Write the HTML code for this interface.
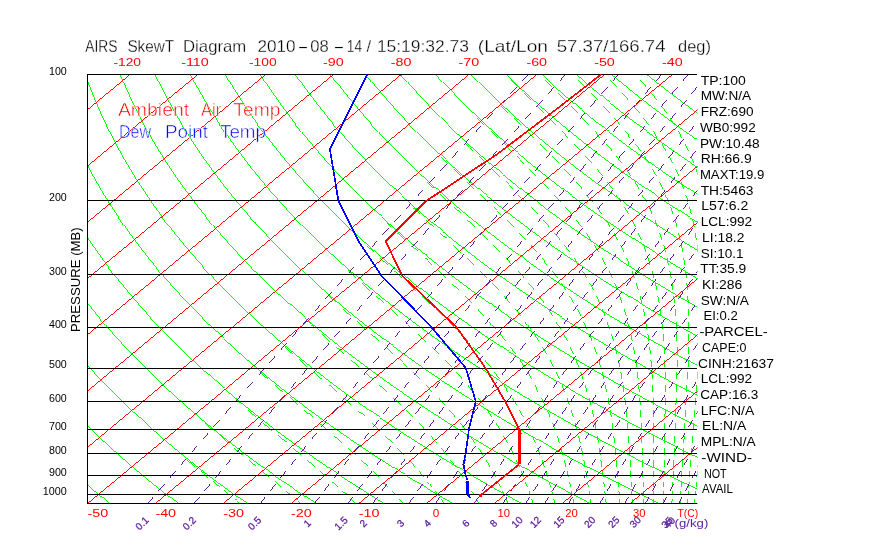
<!DOCTYPE html>
<html lang="en"><head><meta charset="utf-8"><title>AIRS SkewT Diagram</title>
<style>html,body{margin:0;padding:0;background:#fff}body{width:870px;height:560px;overflow:hidden}svg{display:block}</style></head>
<body>
<svg width="870" height="560" viewBox="0 0 870 560" font-family="'Liberation Sans', sans-serif">
<rect width="870" height="560" fill="#fff"/>
<defs><clipPath id="c"><rect x="87" y="74" width="610.5" height="430"/></clipPath></defs>
<g clip-path="url(#c)" fill="none" stroke-width="1" shape-rendering="crispEdges">
<path stroke="#00ff00" stroke-width="0.99" d="M109 503.4 L100.5 496.3 L92.2 489.1 L84.1 482 L76.2 474.8 L68.4 467.7 L60.9 460.5 L53.5 453.4 L46.3 446.2 L39.3 439.1 L32.4 431.9 L25.8 424.8 L19.3 417.6 L12.9 410.5 L6.8 403.3 L0.8 396.2 L-5.1 389 L-10.8 381.9 L-16.3 374.7 L-21.6 367.6 L-26.8 360.4 L-31.9 353.3 L-36.8 346.1 L-41.5 339 L-46.1 331.8 L-50.6 324.7 L-54.9 317.5 L-59.1 310.4 L-63.1 303.2 L-67 296.1 L-70.7 288.9 L-74.3 281.8 L-77.8 274.7 L-81.1 267.5 L-84.3 260.4 L-87.4 253.2 L-90.3 246.1 L-93.1 238.9 L-95.8 231.8 L-98.4 224.6 L-100.8 217.5 L-103.1 210.3 L-105.3 203.2 L-107.4 196 L-109.3 188.9 L-111.1 181.7 L-112.8 174.6 L-114.4 167.4 L-115.9 160.3 L-117.3 153.1 L-118.6 146 L-119.7 138.8 L-120.7 131.7 L-121.7 124.5 L-122.5 117.4 L-123.2 110.2 L-123.8 103.1 L-124.4 95.9 L-124.8 88.8 L-125.1 81.6 L-125.3 74.5 M177.7 503.4 L168.5 496.3 L159.4 489.1 L150.6 482 L141.9 474.8 L133.4 467.7 L125.2 460.5 L117.1 453.4 L109.2 446.2 L101.4 439.1 L93.9 431.9 L86.6 424.8 L79.4 417.6 L72.4 410.5 L65.5 403.3 L58.9 396.2 L52.4 389 L46.1 381.9 L39.9 374.7 L33.9 367.6 L28.1 360.4 L22.4 353.3 L16.9 346.1 L11.6 339 L6.4 331.8 L1.4 324.7 L-3.5 317.5 L-8.3 310.4 L-12.9 303.2 L-17.3 296.1 L-21.6 288.9 L-25.7 281.8 L-29.7 274.7 L-33.6 267.5 L-37.3 260.4 L-40.9 253.2 L-44.4 246.1 L-47.7 238.9 L-50.9 231.8 L-54 224.6 L-56.9 217.5 L-59.7 210.3 L-62.3 203.2 L-64.9 196 L-67.3 188.9 L-69.6 181.7 L-71.8 174.6 L-73.8 167.4 L-75.8 160.3 L-77.6 153.1 L-79.3 146 L-80.9 138.8 L-82.4 131.7 L-83.7 124.5 L-85 117.4 L-86.1 110.2 L-87.1 103.1 L-88.1 95.9 L-88.9 88.8 L-89.6 81.6 L-90.2 74.5 M246.5 503.4 L236.5 496.3 L226.7 489.1 L217.1 482 L207.6 474.8 L198.4 467.7 L189.4 460.5 L180.6 453.4 L172 446.2 L163.6 439.1 L155.4 431.9 L147.3 424.8 L139.5 417.6 L131.8 410.5 L124.3 403.3 L117 396.2 L109.9 389 L102.9 381.9 L96.1 374.7 L89.5 367.6 L83.1 360.4 L76.8 353.3 L70.7 346.1 L64.7 339 L58.9 331.8 L53.3 324.7 L47.8 317.5 L42.5 310.4 L37.4 303.2 L32.4 296.1 L27.5 288.9 L22.8 281.8 L18.3 274.7 L13.9 267.5 L9.6 260.4 L5.5 253.2 L1.5 246.1 L-2.3 238.9 L-6 231.8 L-9.5 224.6 L-13 217.5 L-16.3 210.3 L-19.4 203.2 L-22.4 196 L-25.3 188.9 L-28.1 181.7 L-30.7 174.6 L-33.2 167.4 L-35.6 160.3 L-37.9 153.1 L-40 146 L-42.1 138.8 L-44 131.7 L-45.8 124.5 L-47.4 117.4 L-49 110.2 L-50.4 103.1 L-51.8 95.9 L-53 88.8 L-54.1 81.6 L-55.1 74.5 M315.2 503.4 L304.5 496.3 L293.9 489.1 L283.5 482 L273.4 474.8 L263.5 467.7 L253.7 460.5 L244.2 453.4 L234.9 446.2 L225.8 439.1 L216.8 431.9 L208.1 424.8 L199.6 417.6 L191.2 410.5 L183.1 403.3 L175.1 396.2 L167.3 389 L159.7 381.9 L152.3 374.7 L145.1 367.6 L138 360.4 L131.1 353.3 L124.4 346.1 L117.8 339 L111.5 331.8 L105.3 324.7 L99.2 317.5 L93.3 310.4 L87.6 303.2 L82.1 296.1 L76.7 288.9 L71.4 281.8 L66.3 274.7 L61.4 267.5 L56.6 260.4 L52 253.2 L47.5 246.1 L43.1 238.9 L38.9 231.8 L34.9 224.6 L30.9 217.5 L27.2 210.3 L23.5 203.2 L20 196 L16.7 188.9 L13.4 181.7 L10.3 174.6 L7.4 167.4 L4.5 160.3 L1.8 153.1 L-0.8 146 L-3.2 138.8 L-5.6 131.7 L-7.8 124.5 L-9.9 117.4 L-11.9 110.2 L-13.7 103.1 L-15.5 95.9 L-17.1 88.8 L-18.6 81.6 L-20 74.5 M384 503.4 L372.4 496.3 L361.1 489.1 L350 482 L339.1 474.8 L328.5 467.7 L318 460.5 L307.8 453.4 L297.7 446.2 L287.9 439.1 L278.3 431.9 L268.9 424.8 L259.7 417.6 L250.7 410.5 L241.8 403.3 L233.2 396.2 L224.8 389 L216.5 381.9 L208.5 374.7 L200.6 367.6 L192.9 360.4 L185.4 353.3 L178.1 346.1 L171 339 L164 331.8 L157.2 324.7 L150.6 317.5 L144.1 310.4 L137.8 303.2 L131.7 296.1 L125.8 288.9 L120 281.8 L114.3 274.7 L108.9 267.5 L103.6 260.4 L98.4 253.2 L93.4 246.1 L88.5 238.9 L83.8 231.8 L79.3 224.6 L74.9 217.5 L70.6 210.3 L66.5 203.2 L62.5 196 L58.6 188.9 L54.9 181.7 L51.4 174.6 L48 167.4 L44.7 160.3 L41.5 153.1 L38.5 146 L35.6 138.8 L32.8 131.7 L30.2 124.5 L27.6 117.4 L25.2 110.2 L23 103.1 L20.8 95.9 L18.8 88.8 L16.9 81.6 L15.1 74.5 M452.7 503.4 L440.4 496.3 L428.3 489.1 L416.5 482 L404.9 474.8 L393.5 467.7 L382.3 460.5 L371.3 453.4 L360.6 446.2 L350.1 439.1 L339.8 431.9 L329.7 424.8 L319.8 417.6 L310.1 410.5 L300.6 403.3 L291.3 396.2 L282.3 389 L273.4 381.9 L264.7 374.7 L256.2 367.6 L247.9 360.4 L239.8 353.3 L231.8 346.1 L224.1 339 L216.5 331.8 L209.2 324.7 L202 317.5 L194.9 310.4 L188.1 303.2 L181.4 296.1 L174.9 288.9 L168.6 281.8 L162.4 274.7 L156.4 267.5 L150.5 260.4 L144.8 253.2 L139.3 246.1 L133.9 238.9 L128.7 231.8 L123.7 224.6 L118.8 217.5 L114 210.3 L109.4 203.2 L104.9 196 L100.6 188.9 L96.5 181.7 L92.4 174.6 L88.6 167.4 L84.8 160.3 L81.2 153.1 L77.7 146 L74.4 138.8 L71.2 131.7 L68.1 124.5 L65.2 117.4 L62.4 110.2 L59.7 103.1 L57.1 95.9 L54.7 88.8 L52.4 81.6 L50.2 74.5 M521.5 503.4 L508.4 496.3 L495.6 489.1 L483 482 L470.6 474.8 L458.5 467.7 L446.6 460.5 L434.9 453.4 L423.4 446.2 L412.2 439.1 L401.2 431.9 L390.4 424.8 L379.9 417.6 L369.5 410.5 L359.4 403.3 L349.4 396.2 L339.7 389 L330.2 381.9 L320.9 374.7 L311.8 367.6 L302.8 360.4 L294.1 353.3 L285.6 346.1 L277.2 339 L269.1 331.8 L261.1 324.7 L253.3 317.5 L245.7 310.4 L238.3 303.2 L231.1 296.1 L224 288.9 L217.1 281.8 L210.4 274.7 L203.9 267.5 L197.5 260.4 L191.3 253.2 L185.2 246.1 L179.4 238.9 L173.6 231.8 L168.1 224.6 L162.7 217.5 L157.4 210.3 L152.3 203.2 L147.4 196 L142.6 188.9 L138 181.7 L133.5 174.6 L129.2 167.4 L125 160.3 L120.9 153.1 L117 146 L113.2 138.8 L109.6 131.7 L106.1 124.5 L102.7 117.4 L99.5 110.2 L96.4 103.1 L93.4 95.9 L90.6 88.8 L87.9 81.6 L85.3 74.5 M590.2 503.4 L576.4 496.3 L562.8 489.1 L549.4 482 L536.3 474.8 L523.5 467.7 L510.8 460.5 L498.5 453.4 L486.3 446.2 L474.4 439.1 L462.7 431.9 L451.2 424.8 L440 417.6 L429 410.5 L418.1 403.3 L407.6 396.2 L397.2 389 L387 381.9 L377.1 374.7 L367.3 367.6 L357.8 360.4 L348.4 353.3 L339.3 346.1 L330.4 339 L321.6 331.8 L313.1 324.7 L304.7 317.5 L296.5 310.4 L288.5 303.2 L280.7 296.1 L273.1 288.9 L265.7 281.8 L258.4 274.7 L251.4 267.5 L244.5 260.4 L237.7 253.2 L231.2 246.1 L224.8 238.9 L218.5 231.8 L212.5 224.6 L206.6 217.5 L200.9 210.3 L195.3 203.2 L189.9 196 L184.6 188.9 L179.5 181.7 L174.6 174.6 L169.8 167.4 L165.1 160.3 L160.6 153.1 L156.2 146 L152 138.8 L148 131.7 L144 124.5 L140.2 117.4 L136.6 110.2 L133.1 103.1 L129.7 95.9 L126.5 88.8 L123.3 81.6 L120.4 74.5 M659 503.4 L644.4 496.3 L630 489.1 L615.9 482 L602.1 474.8 L588.5 467.7 L575.1 460.5 L562 453.4 L549.2 446.2 L536.5 439.1 L524.1 431.9 L512 424.8 L500.1 417.6 L488.4 410.5 L476.9 403.3 L465.7 396.2 L454.7 389 L443.8 381.9 L433.3 374.7 L422.9 367.6 L412.7 360.4 L402.8 353.3 L393 346.1 L383.5 339 L374.2 331.8 L365 324.7 L356.1 317.5 L347.3 310.4 L338.8 303.2 L330.4 296.1 L322.3 288.9 L314.3 281.8 L306.5 274.7 L298.9 267.5 L291.4 260.4 L284.2 253.2 L277.1 246.1 L270.2 238.9 L263.5 231.8 L256.9 224.6 L250.5 217.5 L244.3 210.3 L238.2 203.2 L232.3 196 L226.6 188.9 L221 181.7 L215.6 174.6 L210.4 167.4 L205.2 160.3 L200.3 153.1 L195.5 146 L190.8 138.8 L186.3 131.7 L182 124.5 L177.8 117.4 L173.7 110.2 L169.8 103.1 L166 95.9 L162.3 88.8 L158.8 81.6 L155.5 74.5 M727.8 503.4 L712.4 496.3 L697.3 489.1 L682.4 482 L667.8 474.8 L653.5 467.7 L639.4 460.5 L625.6 453.4 L612 446.2 L598.7 439.1 L585.6 431.9 L572.8 424.8 L560.2 417.6 L547.8 410.5 L535.7 403.3 L523.8 396.2 L512.1 389 L500.7 381.9 L489.5 374.7 L478.5 367.6 L467.7 360.4 L457.1 353.3 L446.8 346.1 L436.6 339 L426.7 331.8 L417 324.7 L407.4 317.5 L398.1 310.4 L389 303.2 L380.1 296.1 L371.4 288.9 L362.8 281.8 L354.5 274.7 L346.4 267.5 L338.4 260.4 L330.6 253.2 L323 246.1 L315.6 238.9 L308.4 231.8 L301.3 224.6 L294.4 217.5 L287.7 210.3 L281.2 203.2 L274.8 196 L268.6 188.9 L262.5 181.7 L256.7 174.6 L250.9 167.4 L245.4 160.3 L240 153.1 L234.8 146 L229.7 138.8 L224.7 131.7 L219.9 124.5 L215.3 117.4 L210.8 110.2 L206.5 103.1 L202.3 95.9 L198.2 88.8 L194.3 81.6 L190.5 74.5 M796.5 503.4 L780.4 496.3 L764.5 489.1 L748.9 482 L733.6 474.8 L718.5 467.7 L703.7 460.5 L689.2 453.4 L674.9 446.2 L660.8 439.1 L647.1 431.9 L633.6 424.8 L620.3 417.6 L607.2 410.5 L594.5 403.3 L581.9 396.2 L569.6 389 L557.5 381.9 L545.6 374.7 L534 367.6 L522.6 360.4 L511.4 353.3 L500.5 346.1 L489.8 339 L479.2 331.8 L468.9 324.7 L458.8 317.5 L448.9 310.4 L439.3 303.2 L429.8 296.1 L420.5 288.9 L411.4 281.8 L402.5 274.7 L393.8 267.5 L385.4 260.4 L377.1 253.2 L368.9 246.1 L361 238.9 L353.3 231.8 L345.7 224.6 L338.3 217.5 L331.1 210.3 L324.1 203.2 L317.2 196 L310.6 188.9 L304.1 181.7 L297.7 174.6 L291.5 167.4 L285.5 160.3 L279.7 153.1 L274 146 L268.5 138.8 L263.1 131.7 L257.9 124.5 L252.8 117.4 L247.9 110.2 L243.2 103.1 L238.6 95.9 L234.1 88.8 L229.8 81.6 L225.6 74.5 M865.3 503.4 L848.3 496.3 L831.7 489.1 L815.4 482 L799.3 474.8 L783.5 467.7 L768 460.5 L752.7 453.4 L737.7 446.2 L723 439.1 L708.5 431.9 L694.3 424.8 L680.4 417.6 L666.7 410.5 L653.2 403.3 L640 396.2 L627 389 L614.3 381.9 L601.8 374.7 L589.6 367.6 L577.6 360.4 L565.8 353.3 L554.2 346.1 L542.9 339 L531.8 331.8 L520.9 324.7 L510.2 317.5 L499.7 310.4 L489.5 303.2 L479.4 296.1 L469.6 288.9 L460 281.8 L450.6 274.7 L441.3 267.5 L432.3 260.4 L423.5 253.2 L414.9 246.1 L406.4 238.9 L398.2 231.8 L390.1 224.6 L382.2 217.5 L374.5 210.3 L367 203.2 L359.7 196 L352.6 188.9 L345.6 181.7 L338.8 174.6 L332.1 167.4 L325.7 160.3 L319.4 153.1 L313.3 146 L307.3 138.8 L301.5 131.7 L295.9 124.5 L290.4 117.4 L285.1 110.2 L279.9 103.1 L274.9 95.9 L270 88.8 L265.3 81.6 L260.7 74.5 M934 503.4 L916.3 496.3 L898.9 489.1 L881.8 482 L865 474.8 L848.5 467.7 L832.3 460.5 L816.3 453.4 L800.6 446.2 L785.2 439.1 L770 431.9 L755.1 424.8 L740.5 417.6 L726.1 410.5 L712 403.3 L698.1 396.2 L684.5 389 L671.1 381.9 L658 374.7 L645.2 367.6 L632.5 360.4 L620.1 353.3 L607.9 346.1 L596 339 L584.3 331.8 L572.8 324.7 L561.6 317.5 L550.5 310.4 L539.7 303.2 L529.1 296.1 L518.7 288.9 L508.6 281.8 L498.6 274.7 L488.8 267.5 L479.3 260.4 L469.9 253.2 L460.8 246.1 L451.8 238.9 L443.1 231.8 L434.5 224.6 L426.2 217.5 L418 210.3 L410 203.2 L402.2 196 L394.5 188.9 L387.1 181.7 L379.8 174.6 L372.7 167.4 L365.8 160.3 L359.1 153.1 L352.5 146 L346.1 138.8 L339.9 131.7 L333.8 124.5 L327.9 117.4 L322.2 110.2 L316.6 103.1 L311.2 95.9 L305.9 88.8 L300.8 81.6 L295.8 74.5 M1002.8 503.4 L984.3 496.3 L966.2 489.1 L948.3 482 L930.8 474.8 L913.5 467.7 L896.5 460.5 L879.8 453.4 L863.4 446.2 L847.3 439.1 L831.5 431.9 L815.9 424.8 L800.6 417.6 L785.5 410.5 L770.8 403.3 L756.2 396.2 L742 389 L728 381.9 L714.2 374.7 L700.7 367.6 L687.5 360.4 L674.4 353.3 L661.7 346.1 L649.1 339 L636.8 331.8 L624.8 324.7 L612.9 317.5 L601.3 310.4 L590 303.2 L578.8 296.1 L567.9 288.9 L557.1 281.8 L546.6 274.7 L536.3 267.5 L526.3 260.4 L516.4 253.2 L506.7 246.1 L497.3 238.9 L488 231.8 L478.9 224.6 L470.1 217.5 L461.4 210.3 L452.9 203.2 L444.6 196 L436.5 188.9 L428.6 181.7 L420.9 174.6 L413.3 167.4 L406 160.3 L398.8 153.1 L391.8 146 L384.9 138.8 L378.3 131.7 L371.8 124.5 L365.5 117.4 L359.3 110.2 L353.3 103.1 L347.5 95.9 L341.8 88.8 L336.3 81.6 L330.9 74.5 M1071.5 503.4 L1052.3 496.3 L1033.4 489.1 L1014.8 482 L996.5 474.8 L978.5 467.7 L960.8 460.5 L943.4 453.4 L926.3 446.2 L909.5 439.1 L892.9 431.9 L876.7 424.8 L860.7 417.6 L845 410.5 L829.5 403.3 L814.4 396.2 L799.4 389 L784.8 381.9 L770.4 374.7 L756.3 367.6 L742.4 360.4 L728.8 353.3 L715.4 346.1 L702.3 339 L689.4 331.8 L676.7 324.7 L664.3 317.5 L652.1 310.4 L640.2 303.2 L628.5 296.1 L617 288.9 L605.7 281.8 L594.7 274.7 L583.8 267.5 L573.2 260.4 L562.8 253.2 L552.6 246.1 L542.7 238.9 L532.9 231.8 L523.3 224.6 L514 217.5 L504.8 210.3 L495.9 203.2 L487.1 196 L478.5 188.9 L470.1 181.7 L461.9 174.6 L453.9 167.4 L446.1 160.3 L438.5 153.1 L431 146 L423.8 138.8 L416.7 131.7 L409.7 124.5 L403 117.4 L396.4 110.2 L390 103.1 L383.8 95.9 L377.7 88.8 L371.8 81.6 L366 74.5 M1140.3 503.4 L1120.3 496.3 L1100.6 489.1 L1081.3 482 L1062.2 474.8 L1043.5 467.7 L1025.1 460.5 L1007 453.4 L989.2 446.2 L971.6 439.1 L954.4 431.9 L937.4 424.8 L920.8 417.6 L904.4 410.5 L888.3 403.3 L872.5 396.2 L856.9 389 L841.6 381.9 L826.6 374.7 L811.8 367.6 L797.4 360.4 L783.1 353.3 L769.1 346.1 L755.4 339 L741.9 331.8 L728.7 324.7 L715.7 317.5 L702.9 310.4 L690.4 303.2 L678.1 296.1 L666.1 288.9 L654.3 281.8 L642.7 274.7 L631.3 267.5 L620.2 260.4 L609.3 253.2 L598.6 246.1 L588.1 238.9 L577.8 231.8 L567.7 224.6 L557.9 217.5 L548.2 210.3 L538.8 203.2 L529.5 196 L520.5 188.9 L511.7 181.7 L503 174.6 L494.5 167.4 L486.3 160.3 L478.2 153.1 L470.3 146 L462.6 138.8 L455 131.7 L447.7 124.5 L440.5 117.4 L433.5 110.2 L426.7 103.1 L420.1 95.9 L413.6 88.8 L407.3 81.6 L401.1 74.5 M1209 503.4 L1188.3 496.3 L1167.9 489.1 L1147.8 482 L1128 474.8 L1108.5 467.7 L1089.4 460.5 L1070.5 453.4 L1052 446.2 L1033.8 439.1 L1015.9 431.9 L998.2 424.8 L980.9 417.6 L963.8 410.5 L947.1 403.3 L930.6 396.2 L914.4 389 L898.4 381.9 L882.8 374.7 L867.4 367.6 L852.3 360.4 L837.4 353.3 L822.9 346.1 L808.5 339 L794.5 331.8 L780.6 324.7 L767.1 317.5 L753.7 310.4 L740.7 303.2 L727.8 296.1 L715.2 288.9 L702.9 281.8 L690.7 274.7 L678.8 267.5 L667.2 260.4 L655.7 253.2 L644.5 246.1 L633.5 238.9 L622.7 231.8 L612.2 224.6 L601.8 217.5 L591.7 210.3 L581.7 203.2 L572 196 L562.5 188.9 L553.2 181.7 L544.1 174.6 L535.1 167.4 L526.4 160.3 L517.9 153.1 L509.5 146 L501.4 138.8 L493.4 131.7 L485.7 124.5 L478.1 117.4 L470.6 110.2 L463.4 103.1 L456.3 95.9 L449.5 88.8 L442.7 81.6 L436.2 74.5 M1277.8 503.4 L1256.3 496.3 L1235.1 489.1 L1214.2 482 L1193.7 474.8 L1173.5 467.7 L1153.7 460.5 L1134.1 453.4 L1114.9 446.2 L1095.9 439.1 L1077.3 431.9 L1059 424.8 L1041 417.6 L1023.3 410.5 L1005.8 403.3 L988.7 396.2 L971.8 389 L955.3 381.9 L939 374.7 L923 367.6 L907.2 360.4 L891.8 353.3 L876.6 346.1 L861.7 339 L847 331.8 L832.6 324.7 L818.4 317.5 L804.5 310.4 L790.9 303.2 L777.5 296.1 L764.3 288.9 L751.4 281.8 L738.8 274.7 L726.3 267.5 L714.1 260.4 L702.2 253.2 L690.4 246.1 L678.9 238.9 L667.6 231.8 L656.6 224.6 L645.7 217.5 L635.1 210.3 L624.7 203.2 L614.5 196 L604.5 188.9 L594.7 181.7 L585.1 174.6 L575.7 167.4 L566.6 160.3 L557.6 153.1 L548.8 146 L540.2 138.8 L531.8 131.7 L523.6 124.5 L515.6 117.4 L507.8 110.2 L500.1 103.1 L492.6 95.9 L485.3 88.8 L478.2 81.6 L471.3 74.5 M1346.5 503.4 L1324.3 496.3 L1302.3 489.1 L1280.7 482 L1259.5 474.8 L1238.5 467.7 L1217.9 460.5 L1197.7 453.4 L1177.7 446.2 L1158.1 439.1 L1138.8 431.9 L1119.8 424.8 L1101.1 417.6 L1082.7 410.5 L1064.6 403.3 L1046.8 396.2 L1029.3 389 L1012.1 381.9 L995.2 374.7 L978.5 367.6 L962.2 360.4 L946.1 353.3 L930.3 346.1 L914.8 339 L899.5 331.8 L884.5 324.7 L869.8 317.5 L855.3 310.4 L841.1 303.2 L827.2 296.1 L813.5 288.9 L800 281.8 L786.8 274.7 L773.8 267.5 L761.1 260.4 L748.6 253.2 L736.3 246.1 L724.3 238.9 L712.5 231.8 L701 224.6 L689.6 217.5 L678.5 210.3 L667.6 203.2 L656.9 196 L646.5 188.9 L636.2 181.7 L626.2 174.6 L616.3 167.4 L606.7 160.3 L597.3 153.1 L588.1 146 L579 138.8 L570.2 131.7 L561.6 124.5 L553.1 117.4 L544.9 110.2 L536.8 103.1 L528.9 95.9 L521.2 88.8 L513.7 81.6 L506.4 74.5 M1415.3 503.4 L1392.2 496.3 L1369.5 489.1 L1347.2 482 L1325.2 474.8 L1303.5 467.7 L1282.2 460.5 L1261.2 453.4 L1240.6 446.2 L1220.2 439.1 L1200.2 431.9 L1180.6 424.8 L1161.2 417.6 L1142.1 410.5 L1123.4 403.3 L1104.9 396.2 L1086.8 389 L1068.9 381.9 L1051.4 374.7 L1034.1 367.6 L1017.1 360.4 L1000.4 353.3 L984 346.1 L967.9 339 L952.1 331.8 L936.5 324.7 L921.2 317.5 L906.1 310.4 L891.4 303.2 L876.8 296.1 L862.6 288.9 L848.6 281.8 L834.8 274.7 L821.3 267.5 L808.1 260.4 L795 253.2 L782.3 246.1 L769.7 238.9 L757.4 231.8 L745.4 224.6 L733.5 217.5 L721.9 210.3 L710.5 203.2 L699.4 196 L688.5 188.9 L677.7 181.7 L667.2 174.6 L656.9 167.4 L646.9 160.3 L637 153.1 L627.3 146 L617.9 138.8 L608.6 131.7 L599.5 124.5 L590.7 117.4 L582 110.2 L573.5 103.1 L565.2 95.9 L557.1 88.8 L549.2 81.6 L541.5 74.5 M1484 503.4 L1460.2 496.3 L1436.8 489.1 L1413.7 482 L1390.9 474.8 L1368.5 467.7 L1346.5 460.5 L1324.8 453.4 L1303.4 446.2 L1282.4 439.1 L1261.7 431.9 L1241.3 424.8 L1221.3 417.6 L1201.5 410.5 L1182.1 403.3 L1163 396.2 L1144.2 389 L1125.7 381.9 L1107.6 374.7 L1089.7 367.6 L1072.1 360.4 L1054.8 353.3 L1037.8 346.1 L1021 339 L1004.6 331.8 L988.4 324.7 L972.5 317.5 L956.9 310.4 L941.6 303.2 L926.5 296.1 L911.7 288.9 L897.1 281.8 L882.8 274.7 L868.8 267.5 L855 260.4 L841.5 253.2 L828.2 246.1 L815.1 238.9 L802.3 231.8 L789.8 224.6 L777.4 217.5 L765.4 210.3 L753.5 203.2 L741.8 196 L730.4 188.9 L719.2 181.7 L708.3 174.6 L697.5 167.4 L687 160.3 L676.7 153.1 L666.6 146 L656.7 138.8 L647 131.7 L637.5 124.5 L628.2 117.4 L619.1 110.2 L610.2 103.1 L601.5 95.9 L593 88.8 L584.7 81.6 L576.6 74.5 M1552.8 503.4 L1528.2 496.3 L1504 489.1 L1480.2 482 L1456.7 474.8 L1433.6 467.7 L1410.8 460.5 L1388.4 453.4 L1366.3 446.2 L1344.6 439.1 L1323.2 431.9 L1302.1 424.8 L1281.4 417.6 L1261 410.5 L1240.9 403.3 L1221.1 396.2 L1201.7 389 L1182.6 381.9 L1163.8 374.7 L1145.2 367.6 L1127 360.4 L1109.1 353.3 L1091.5 346.1 L1074.2 339 L1057.1 331.8 L1040.4 324.7 L1023.9 317.5 L1007.7 310.4 L991.8 303.2 L976.2 296.1 L960.8 288.9 L945.7 281.8 L930.9 274.7 L916.3 267.5 L902 260.4 L887.9 253.2 L874.1 246.1 L860.6 238.9 L847.3 231.8 L834.2 224.6 L821.4 217.5 L808.8 210.3 L796.4 203.2 L784.3 196 L772.4 188.9 L760.8 181.7 L749.3 174.6 L738.1 167.4 L727.1 160.3 L716.4 153.1 L705.8 146 L695.5 138.8 L685.4 131.7 L675.4 124.5 L665.7 117.4 L656.2 110.2 L646.9 103.1 L637.8 95.9 L628.9 88.8 L620.2 81.6 L611.7 74.5 M1621.5 503.4 L1596.2 496.3 L1571.2 489.1 L1546.6 482 L1522.4 474.8 L1498.6 467.7 L1475.1 460.5 L1451.9 453.4 L1429.1 446.2 L1406.7 439.1 L1384.6 431.9 L1362.9 424.8 L1341.5 417.6 L1320.4 410.5 L1299.7 403.3 L1279.3 396.2 L1259.2 389 L1239.4 381.9 L1219.9 374.7 L1200.8 367.6 L1182 360.4 L1163.4 353.3 L1145.2 346.1 L1127.3 339 L1109.7 331.8 L1092.3 324.7 L1075.3 317.5 L1058.5 310.4 L1042.1 303.2 L1025.9 296.1 L1009.9 288.9 L994.3 281.8 L978.9 274.7 L963.8 267.5 L949 260.4 L934.4 253.2 L920 246.1 L906 238.9 L892.2 231.8 L878.6 224.6 L865.3 217.5 L852.2 210.3 L839.4 203.2 L826.8 196 L814.4 188.9 L802.3 181.7 L790.4 174.6 L778.7 167.4 L767.3 160.3 L756.1 153.1 L745.1 146 L734.3 138.8 L723.7 131.7 L713.4 124.5 L703.3 117.4 L693.3 110.2 L683.6 103.1 L674.1 95.9 L664.8 88.8 L655.7 81.6 L646.8 74.5"/>
<path stroke="#00ff00" stroke-width="0.99" d="M240 503.5 L237.3 501.3 L234.5 499 M230 495.4 L227.1 493 L224.2 490.7 M219.5 486.8 L216.2 484.1 L212.9 481.5 M207.6 477.1 L204 474.2 L200.5 471.3 M194.8 466.5 L191 463.3 L187.2 460.2 M300.8 503.5 L298.1 501.3 L295.5 499 M291.2 495.4 L288.4 493 L285.6 490.7 M281 486.8 L277.7 484.1 L274.5 481.5 M269.3 477.1 L265.7 474.2 L262.2 471.3 M256.4 466.5 L252.6 463.3 L248.7 460.2 M242.5 455 L238.4 451.6 L234.4 448.3 M227.8 442.8 L223.7 439.3 L219.5 435.8 M212.8 430.1 L208.7 426.6 L204.7 423.1 M355.6 503.5 L353.3 501.3 L350.9 499 M347.1 495.4 L344.5 493 L342 490.7 M337.7 486.8 L334.8 484.1 L331.8 481.5 M326.8 477.1 L323.5 474.2 L320.2 471.3 M314.7 466.5 L311 463.3 L307.3 460.2 M301.2 455 L297.2 451.6 L293.2 448.3 M286.6 442.8 L282.5 439.3 L278.3 435.8 M271.5 430.1 L267.3 426.6 L263.2 423.1 M256.4 417.4 L252.3 413.9 L248.2 410.4 M241.5 404.7 L237.5 401.2 L233.5 397.7 M403.4 503.5 L401.5 501.3 L399.5 499 M396.2 495.4 L394 493 L391.9 490.7 M388.2 486.8 L385.6 484.1 L383 481.5 M378.7 477.1 L375.8 474.2 L372.8 471.3 M367.9 466.5 L364.5 463.3 L361.2 460.2 M355.6 455 L351.9 451.6 L348.1 448.3 M342 442.8 L338 439.3 L334 435.8 M327.4 430.1 L323.4 426.6 L319.3 423.1 M312.6 417.4 L308.5 413.9 L304.4 410.4 M297.7 404.7 L293.6 401.2 L289.5 397.7 M282.8 392 L278.7 388.5 L274.7 385 M268.1 379.3 L264.1 375.8 L260.1 372.3 M444.2 503.5 L442.6 501.3 L441 499 M438.4 495.4 L436.6 493 L434.8 490.7 M431.8 486.8 L429.7 484.1 L427.6 481.5 M424 477.1 L421.5 474.2 L419 471.3 M414.8 466.5 L412 463.3 L409.1 460.2 M404.3 455 L401 451.6 L397.8 448.3 M392.3 442.8 L388.8 439.3 L385.2 435.8 M379.1 430.1 L375.4 426.6 L371.6 423.1 M365.4 417.4 L361.5 413.9 L357.6 410.4 M351.1 404.7 L347.1 401.2 L343.1 397.7 M336.6 392 L332.5 388.5 L328.5 385 M321.9 379.3 L317.8 375.8 L313.8 372.3 M307.2 366.6 L303.1 363.1 L299.1 359.6 M292.6 353.9 L288.7 350.4 L284.7 346.9 M478.7 503.5 L477.5 501.3 L476.3 499 M474.2 495.4 L472.8 493 L471.4 490.7 M469 486.8 L467.3 484.1 L465.6 481.5 M462.7 477.1 L460.7 474.2 L458.7 471.3 M455.3 466.5 L453 463.3 L450.6 460.2 M446.6 455 L444 451.6 L441.2 448.3 M436.6 442.8 L433.6 439.3 L430.6 435.8 M425.4 430.1 L422.2 426.6 L418.9 423.1 M413.3 417.4 L409.9 413.9 L406.4 410.4 M400.5 404.7 L396.8 401.2 L393.1 397.7 M387 392 L383.2 388.5 L379.4 385 M373 379.3 L369.1 375.8 L365.2 372.3 M358.7 366.6 L354.7 363.1 L350.7 359.6 M344.2 353.9 L340.2 350.4 L336.2 346.9 M329.7 341.2 L325.7 337.7 L321.8 334.2 M315.3 328.5 L311.4 325 L307.5 321.5 M508.1 503.5 L507.1 501.3 L506.1 499 M504.5 495.4 L503.4 493 L502.3 490.7 M500.5 486.8 L499.2 484.1 L497.8 481.5 M495.6 477.1 L494 474.2 L492.5 471.3 M489.8 466.5 L487.9 463.3 L486.1 460.2 M482.9 455 L480.8 451.6 L478.6 448.3 M474.9 442.8 L472.4 439.3 L469.9 435.8 M465.7 430.1 L463 426.6 L460.2 423.1 M455.6 417.4 L452.7 413.9 L449.7 410.4 M444.7 404.7 L441.5 401.2 L438.3 397.7 M432.9 392 L429.5 388.5 L426 385 M420.3 379.3 L416.7 375.8 L413.1 372.3 M407.1 366.6 L403.3 363.1 L399.5 359.6 M393.3 353.9 L389.4 350.4 L385.6 346.9 M379.2 341.2 L375.3 337.7 L371.3 334.2 M364.9 328.5 L361 325 L357 321.5 M350.6 315.8 L346.7 312.3 L342.8 308.8 M336.4 303.1 L332.5 299.6 L328.7 296.1 M533.1 503.5 L532.4 501.3 L531.7 499 M530.4 495.4 L529.6 493 L528.8 490.7 M527.4 486.8 L526.4 484.1 L525.3 481.5 M523.6 477.1 L522.4 474.2 L521.2 471.3 M519.1 466.5 L517.7 463.3 L516.3 460.2 M513.8 455 L512.1 451.6 L510.4 448.3 M507.5 442.8 L505.6 439.3 L503.6 435.8 M500.2 430.1 L498.1 426.6 L495.9 423.1 M492.2 417.4 L489.8 413.9 L487.3 410.4 M483.2 404.7 L480.6 401.2 L477.9 397.7 M473.4 392 L470.5 388.5 L467.6 385 M462.7 379.3 L459.6 375.8 L456.4 372.3 M451.1 366.6 L447.8 363.1 L444.4 359.6 M438.7 353.9 L435.2 350.4 L431.6 346.9 M425.7 341.2 L422 337.7 L418.3 334.2 M412.1 328.5 L408.3 325 L404.5 321.5 M398.2 315.8 L394.3 312.3 L390.4 308.8 M384 303.1 L380.2 299.6 L376.3 296.1 M369.9 290.4 L366.1 286.9 L362.2 283.4 M355.9 277.7 L352.1 274.2 L348.3 270.7 M554.8 503.5 L554.3 501.3 L553.7 499 M552.8 495.4 L552.2 493 L551.5 490.7 M550.5 486.8 L549.7 484.1 L549 481.5 M547.7 477.1 L546.8 474.2 L545.8 471.3 M544.3 466.5 L543.2 463.3 L542.1 460.2 M540.2 455 L538.9 451.6 L537.6 448.3 M535.4 442.8 L533.9 439.3 L532.4 435.8 M529.8 430.1 L528.1 426.6 L526.4 423.1 M523.5 417.4 L521.6 413.9 L519.7 410.4 M516.4 404.7 L514.3 401.2 L512.2 397.7 M508.5 392 L506.2 388.5 L503.8 385 M499.8 379.3 L497.2 375.8 L494.6 372.3 M490.1 366.6 L487.3 363.1 L484.4 359.6 M479.5 353.9 L476.5 350.4 L473.4 346.9 M468.1 341.2 L464.8 337.7 L461.5 334.2 M455.9 328.5 L452.4 325 L448.8 321.5 M443 315.8 L439.3 312.3 L435.6 308.8 M429.5 303.1 L425.8 299.6 L422 296.1 M415.8 290.4 L411.9 286.9 L408.1 283.4 M401.8 277.7 L398 274.2 L394.1 270.7 M387.9 265 L384 261.5 L380.2 258 M374.1 252.3 L370.3 248.8 L366.6 245.3 M573.9 503.5 L573.5 501.3 L573 499 M572.3 495.4 L571.8 493 L571.4 490.7 M570.6 486.8 L570 484.1 L569.5 481.5 M568.5 477.1 L567.9 474.2 L567.2 471.3 M566 466.5 L565.2 463.3 L564.4 460.2 M563 455 L562 451.6 L561.1 448.3 M559.4 442.8 L558.3 439.3 L557.1 435.8 M555.1 430.1 L553.9 426.6 L552.6 423.1 M550.3 417.4 L548.9 413.9 L547.4 410.4 M544.9 404.7 L543.3 401.2 L541.6 397.7 M538.7 392 L536.9 388.5 L535 385 M531.8 379.3 L529.8 375.8 L527.7 372.3 M524.1 366.6 L521.8 363.1 L519.4 359.6 M515.4 353.9 L512.9 350.4 L510.3 346.9 M505.8 341.2 L503.1 337.7 L500.2 334.2 M495.4 328.5 L492.3 325 L489.2 321.5 M484 315.8 L480.7 312.3 L477.4 308.8 M471.8 303.1 L468.4 299.6 L464.9 296.1 M459 290.4 L455.4 286.9 L451.8 283.4 M445.7 277.7 L442 274.2 L438.2 270.7 M432.1 265 L428.3 261.5 L424.5 258 M418.3 252.3 L414.5 248.8 L410.7 245.3 M404.5 239.6 L400.8 236.1 L397 232.6 M390.9 226.9 L387.2 223.4 L383.5 219.9 M591 503.5 L590.6 501.3 L590.3 499 M589.7 495.4 L589.4 493 L589 490.7 M588.3 486.8 L587.9 484.1 L587.5 481.5 M586.8 477.1 L586.3 474.2 L585.8 471.3 M585 466.5 L584.4 463.3 L583.8 460.2 M582.8 455 L582.1 451.6 L581.4 448.3 M580.2 442.8 L579.4 439.3 L578.5 435.8 M577.1 430.1 L576.1 426.6 L575.2 423.1 M573.5 417.4 L572.4 413.9 L571.3 410.4 M569.4 404.7 L568.2 401.2 L566.9 397.7 M564.7 392 L563.3 388.5 L561.9 385 M559.4 379.3 L557.8 375.8 L556.2 372.3 M553.3 366.6 L551.6 363.1 L549.7 359.6 M546.5 353.9 L544.5 350.4 L542.4 346.9 M538.8 341.2 L536.5 337.7 L534.2 334.2 M530.2 328.5 L527.7 325 L525.1 321.5 M520.7 315.8 L517.9 312.3 L515 308.8 M510.2 303.1 L507.2 299.6 L504.1 296.1 M498.9 290.4 L495.6 286.9 L492.3 283.4 M486.7 277.7 L483.3 274.2 L479.8 270.7 M474 265 L470.4 261.5 L466.7 258 M460.7 252.3 L457 248.8 L453.3 245.3 M447.2 239.6 L443.5 236.1 L439.7 232.6 M433.6 226.9 L429.8 223.4 L426.1 219.9 M420 214.2 L416.3 210.7 L412.6 207.2 M606.2 503.5 L605.9 501.3 L605.7 499 M605.3 495.4 L605 493 L604.8 490.7 M604.3 486.8 L604 484.1 L603.6 481.5 M603.1 477.1 L602.7 474.2 L602.3 471.3 M601.7 466.5 L601.3 463.3 L600.9 460.2 M600.2 455 L599.8 451.6 L599.3 448.3 M598.4 442.8 L597.8 439.3 L597.2 435.8 M596.2 430.1 L595.5 426.6 L594.8 423.1 M593.6 417.4 L592.9 413.9 L592.1 410.4 M590.7 404.7 L589.8 401.2 L588.8 397.7 M587.2 392 L586.2 388.5 L585.1 385 M583.2 379.3 L582 375.8 L580.8 372.3 M578.6 366.6 L577.2 363.1 L575.8 359.6 M573.4 353.9 L571.8 350.4 L570.2 346.9 M567.4 341.2 L565.6 337.7 L563.7 334.2 M560.5 328.5 L558.5 325 L556.4 321.5 M552.8 315.8 L550.5 312.3 L548.2 308.8 M544.2 303.1 L541.7 299.6 L539 296.1 M534.6 290.4 L531.8 286.9 L528.9 283.4 M524.1 277.7 L521.1 274.2 L517.9 270.7 M512.7 265 L509.5 261.5 L506.1 258 M500.6 252.3 L497.1 248.8 L493.6 245.3 M487.8 239.6 L484.3 236.1 L480.6 232.6 M474.7 226.9 L471 223.4 L467.3 219.9 M461.2 214.2 L457.5 210.7 L453.8 207.2 M447.8 201.5 L444.1 198 L440.4 194.5 M434.4 188.8 L430.7 185.3 L427.1 181.8 M619.8 503.5 L619.7 501.3 L619.5 499 M619.2 495.4 L619.1 493 L618.9 490.7 M618.6 486.8 L618.4 484.1 L618.1 481.5 M617.8 477.1 L617.5 474.2 L617.2 471.3 M616.8 466.5 L616.5 463.3 L616.2 460.2 M615.7 455 L615.4 451.6 L615.1 448.3 M614.5 442.8 L614.1 439.3 L613.8 435.8 M613.1 430.1 L612.6 426.6 L612.1 423.1 M611.3 417.4 L610.8 413.9 L610.2 410.4 M609.2 404.7 L608.6 401.2 L607.9 397.7 M606.8 392 L606 388.5 L605.3 385 M603.9 379.3 L603 375.8 L602.1 372.3 M600.5 366.6 L599.5 363.1 L598.5 359.6 M596.6 353.9 L595.4 350.4 L594.2 346.9 M592.1 341.2 L590.7 337.7 L589.3 334.2 M586.8 328.5 L585.2 325 L583.6 321.5 M580.8 315.8 L579 312.3 L577.1 308.8 M573.9 303.1 L571.9 299.6 L569.7 296.1 M566.1 290.4 L563.8 286.9 L561.4 283.4 M557.4 277.7 L554.8 274.2 L552.2 270.7 M547.7 265 L544.9 261.5 L542 258 M537.1 252.3 L534 248.8 L530.9 245.3 M525.7 239.6 L522.4 236.1 L519 232.6 M513.5 226.9 L510 223.4 L506.5 219.9 M500.7 214.2 L497.1 210.7 L493.5 207.2 M487.6 201.5 L483.9 198 L480.3 194.5 M474.3 188.8 L470.6 185.3 L466.9 181.8 M461 176.1 L457.3 172.6 L453.7 169.1 M447.8 163.4 L444.2 159.9 L440.6 156.4 M632.2 503.5 L632.1 501.3 L632 499 M631.8 495.4 L631.7 493 L631.6 490.7 M631.5 486.8 L631.3 484.1 L631.2 481.5 M631 477.1 L630.8 474.2 L630.7 471.3 M630.4 466.5 L630.2 463.3 L630 460.2 M629.7 455 L629.4 451.6 L629.2 448.3 M628.9 442.8 L628.7 439.3 L628.4 435.8 M628 430.1 L627.8 426.6 L627.5 423.1 M627 417.4 L626.6 413.9 L626.3 410.4 M625.7 404.7 L625.2 401.2 L624.8 397.7 M624 392 L623.5 388.5 L623 385 M622.1 379.3 L621.4 375.8 L620.8 372.3 M619.7 366.6 L619 363.1 L618.2 359.6 M616.9 353.9 L616 350.4 L615.1 346.9 M613.5 341.2 L612.5 337.7 L611.4 334.2 M609.6 328.5 L608.4 325 L607.2 321.5 M605 315.8 L603.7 312.3 L602.2 308.8 M599.7 303.1 L598.1 299.6 L596.5 296.1 M593.6 290.4 L591.8 286.9 L589.9 283.4 M586.6 277.7 L584.6 274.2 L582.4 270.7 M578.7 265 L576.4 261.5 L574 258 M569.8 252.3 L567.2 248.8 L564.6 245.3 M560 239.6 L557.1 236.1 L554.2 232.6 M549.3 226.9 L546.1 223.4 L543 219.9 M537.7 214.2 L534.4 210.7 L531 207.2 M525.4 201.5 L521.9 198 L518.4 194.5 M512.6 188.8 L509.1 185.3 L505.5 181.8 M499.6 176.1 L495.9 172.6 L492.3 169.1 M486.4 163.4 L482.7 159.9 L479.1 156.4 M473.2 150.7 L469.6 147.2 L466.1 143.7 M643.4 503.5 L643.4 501.3 L643.3 499 M643.3 495.4 L643.3 493 L643.2 490.7 M643.2 486.8 L643.1 484.1 L643.1 481.5 M643 477.1 L642.9 474.2 L642.8 471.3 M642.7 466.5 L642.6 463.3 L642.5 460.2 M642.4 455 L642.3 451.6 L642.1 448.3 M641.9 442.8 L641.7 439.3 L641.6 435.8 M641.5 430.1 L641.3 426.6 L641.2 423.1 M641 417.4 L640.8 413.9 L640.6 410.4 M640.3 404.7 L640 401.2 L639.8 397.7 M639.3 392 L639 388.5 L638.7 385 M638.1 379.3 L637.7 375.8 L637.3 372.3 M636.6 366.6 L636.1 363.1 L635.6 359.6 M634.6 353.9 L634 350.4 L633.4 346.9 M632.3 341.2 L631.6 337.7 L630.8 334.2 M629.5 328.5 L628.7 325 L627.7 321.5 M626.2 315.8 L625.1 312.3 L624.1 308.8 M622.2 303.1 L621 299.6 L619.7 296.1 M617.6 290.4 L616.2 286.9 L614.7 283.4 M612.2 277.7 L610.5 274.2 L608.8 270.7 M605.9 265 L604 261.5 L602.1 258 M598.7 252.3 L596.6 248.8 L594.4 245.3 M590.6 239.6 L588.2 236.1 L585.7 232.6 M581.5 226.9 L578.9 223.4 L576.1 219.9 M571.5 214.2 L568.6 210.7 L565.6 207.2 M560.5 201.5 L557.4 198 L554.2 194.5 M548.8 188.8 L545.5 185.3 L542.1 181.8 M536.5 176.1 L533 172.6 L529.5 169.1 M523.7 163.4 L520.1 159.9 L516.5 156.4 M510.7 150.7 L507.1 147.2 L503.5 143.7 M497.6 138 L494 134.5 L490.5 131 M484.6 125.3 L481.1 121.8 L477.6 118.3 M653.7 503.5 L653.7 501.3 L653.7 499 M653.8 495.4 L653.8 493 L653.8 490.7 M653.8 486.8 L653.9 484.1 L653.9 481.5 M653.9 477.1 L653.9 474.2 L653.9 471.3 M653.9 466.5 L653.9 463.3 L653.9 460.2 M653.9 455 L653.9 451.6 L653.9 448.3 M653.8 442.8 L653.8 439.3 L653.7 435.8 M653.6 430.1 L653.6 426.6 L653.6 423.1 M653.5 417.4 L653.5 413.9 L653.5 410.4 M653.4 404.7 L653.3 401.2 L653.2 397.7 M653 392 L652.8 388.5 L652.7 385 M652.4 379.3 L652.2 375.8 L651.9 372.3 M651.5 366.6 L651.2 363.1 L650.9 359.6 M650.4 353.9 L650 350.4 L649.6 346.9 M648.9 341.2 L648.4 337.7 L647.9 334.2 M647 328.5 L646.4 325 L645.8 321.5 M644.7 315.8 L644 312.3 L643.2 308.8 M641.9 303.1 L641 299.6 L640.1 296.1 M638.5 290.4 L637.4 286.9 L636.3 283.4 M634.4 277.7 L633.2 274.2 L631.9 270.7 M629.6 265 L628.2 261.5 L626.7 258 M624.1 252.3 L622.4 248.8 L620.6 245.3 M617.6 239.6 L615.7 236.1 L613.6 232.6 M610.2 226.9 L608 223.4 L605.7 219.9 M601.8 214.2 L599.3 210.7 L596.8 207.2 M592.5 201.5 L589.7 198 L586.9 194.5 M582.2 188.8 L579.2 185.3 L576.1 181.8 M571 176.1 L567.8 172.6 L564.5 169.1 M559.1 163.4 L555.7 159.9 L552.3 156.4 M546.7 150.7 L543.2 147.2 L539.7 143.7 M533.9 138 L530.3 134.5 L526.8 131 M521 125.3 L517.4 121.8 L513.8 118.3 M508 112.6 L504.5 109.1 L501 105.6 M663.2 503.5 L663.2 501.3 L663.3 499 M663.4 495.4 L663.5 493 L663.5 490.7 M663.6 486.8 L663.7 484.1 L663.8 481.5 M663.9 477.1 L664 474.2 L664.1 471.3 M664.2 466.5 L664.3 463.3 L664.3 460.2 M664.4 455 L664.5 451.6 L664.6 448.3 M664.7 442.8 L664.7 439.3 L664.8 435.8 M664.8 430.1 L664.9 426.6 L664.9 423.1 M664.9 417.4 L665 413.9 L665.1 410.4 M665.2 404.7 L665.2 401.2 L665.3 397.7 M665.3 392 L665.3 388.5 L665.3 385 M665.2 379.3 L665.2 375.8 L665.1 372.3 M664.9 366.6 L664.8 363.1 L664.7 359.6 M664.4 353.9 L664.2 350.4 L664 346.9 M663.6 341.2 L663.4 337.7 L663.1 334.2 M662.5 328.5 L662.2 325 L661.8 321.5 M661.1 315.8 L660.6 312.3 L660.1 308.8 M659.2 303.1 L658.6 299.6 L657.9 296.1 M656.8 290.4 L656.1 286.9 L655.3 283.4 M653.9 277.7 L653 274.2 L652.1 270.7 M650.4 265 L649.3 261.5 L648.2 258 M646.2 252.3 L644.9 248.8 L643.6 245.3 M641.2 239.6 L639.7 236.1 L638.1 232.6 M635.4 226.9 L633.7 223.4 L631.8 219.9 M628.7 214.2 L626.7 210.7 L624.6 207.2 M621 201.5 L618.7 198 L616.3 194.5 M612.3 188.8 L609.7 185.3 L607.1 181.8 M602.6 176.1 L599.8 172.6 L596.9 169.1 M592 163.4 L588.9 159.9 L585.8 156.4 M580.6 150.7 L577.3 147.2 L574 143.7 M568.6 138 L565.2 134.5 L561.7 131 M556.1 125.3 L552.6 121.8 L549.1 118.3 M543.3 112.6 L539.8 109.1 L536.3 105.6 M530.5 99.9 L527 96.4 L523.5 92.9 M517.8 87.2 L514.3 83.7 L510.9 80.2 M671.9 503.5 L672 501.3 L672.1 499 M672.3 495.4 L672.4 493 L672.5 490.7 M672.7 486.8 L672.8 484.1 L672.9 481.5 M673.1 477.1 L673.3 474.2 L673.4 471.3 M673.6 466.5 L673.7 463.3 L673.9 460.2 M674.1 455 L674.2 451.6 L674.4 448.3 M674.6 442.8 L674.7 439.3 L674.9 435.8 M675.1 430.1 L675.2 426.6 L675.3 423.1 M675.5 417.4 L675.6 413.9 L675.7 410.4 M675.9 404.7 L676.1 401.2 L676.2 397.7 M676.4 392 L676.6 388.5 L676.7 385 M676.8 379.3 L676.9 375.8 L677 372.3 M677 366.6 L677 363.1 L677.1 359.6 M677 353.9 L677 350.4 L677 346.9 M676.8 341.2 L676.7 337.7 L676.6 334.2 M676.4 328.5 L676.2 325 L676 321.5 M675.6 315.8 L675.3 312.3 L675.1 308.8 M674.5 303.1 L674.1 299.6 L673.7 296.1 M673 290.4 L672.5 286.9 L672 283.4 M671.1 277.7 L670.5 274.2 L669.8 270.7 M668.6 265 L667.9 261.5 L667 258 M665.6 252.3 L664.7 248.8 L663.7 245.3 M661.9 239.6 L660.8 236.1 L659.6 232.6 M657.5 226.9 L656.2 223.4 L654.8 219.9 M652.3 214.2 L650.7 210.7 L649.1 207.2 M646.2 201.5 L644.4 198 L642.4 194.5 M639.1 188.8 L637 185.3 L634.8 181.8 M631.1 176.1 L628.7 172.6 L626.2 169.1 M622 163.4 L619.3 159.9 L616.6 156.4 M612 150.7 L609.1 147.2 L606.1 143.7 M601.1 138 L597.9 134.5 L594.7 131 M589.4 125.3 L586.1 121.8 L582.8 118.3 M577.2 112.6 L573.8 109.1 L570.4 105.6 M564.7 99.9 L561.2 96.4 L557.7 92.9 M552 87.2 L548.5 83.7 L545 80.2 M539.3 74.5 L535.9 71 L532.4 67.5 M680 503.5 L680.2 501.3 L680.3 499 M680.5 495.4 L680.7 493 L680.8 490.7 M681 486.8 L681.2 484.1 L681.4 481.5 M681.7 477.1 L681.8 474.2 L682 471.3 M682.3 466.5 L682.5 463.3 L682.7 460.2 M683 455 L683.2 451.6 L683.4 448.3 M683.8 442.8 L684 439.3 L684.2 435.8 M684.5 430.1 L684.7 426.6 L684.9 423.1 M685.2 417.4 L685.4 413.9 L685.6 410.4 M685.9 404.7 L686 401.2 L686.2 397.7 M686.6 392 L686.8 388.5 L687 385 M687.4 379.3 L687.6 375.8 L687.7 372.3 M688 366.6 L688.1 363.1 L688.3 359.6 M688.5 353.9 L688.6 350.4 L688.6 346.9 M688.7 341.2 L688.8 337.7 L688.8 334.2 M688.8 328.5 L688.8 325 L688.8 321.5 M688.7 315.8 L688.6 312.3 L688.5 308.8 M688.2 303.1 L688 299.6 L687.8 296.1 M687.5 290.4 L687.2 286.9 L686.9 283.4 M686.3 277.7 L685.9 274.2 L685.5 270.7 M684.8 265 L684.3 261.5 L683.7 258 M682.7 252.3 L682.1 248.8 L681.4 245.3 M680.2 239.6 L679.4 236.1 L678.5 232.6 M677 226.9 L676 223.4 L674.9 219.9 M673.1 214.2 L671.9 210.7 L670.6 207.2 M668.4 201.5 L667 198 L665.5 194.5 M662.8 188.8 L661.2 185.3 L659.4 181.8 M656.4 176.1 L654.4 172.6 L652.4 169.1 M648.9 163.4 L646.7 159.9 L644.4 156.4 M640.4 150.7 L637.9 147.2 L635.3 143.7 M631 138 L628.2 134.5 L625.3 131 M620.5 125.3 L617.5 121.8 L614.5 118.3 M609.3 112.6 L606.1 109.1 L602.9 105.6 M597.5 99.9 L594.1 96.4 L590.8 92.9 M585.2 87.2 L581.7 83.7 L578.3 80.2 M572.6 74.5 L569.2 71 L565.7 67.5 M687.6 503.5 L687.8 501.3 L687.9 499 M688.2 495.4 L688.4 493 L688.5 490.7 M688.8 486.8 L689 484.1 L689.2 481.5 M689.6 477.1 L689.8 474.2 L690 471.3 M690.4 466.5 L690.6 463.3 L690.9 460.2 M691.3 455 L691.5 451.6 L691.8 448.3 M692.2 442.8 L692.5 439.3 L692.8 435.8 M693.2 430.1 L693.5 426.6 L693.7 423.1 M694.2 417.4 L694.4 413.9 L694.7 410.4 M695.1 404.7 L695.3 401.2 L695.6 397.7 M696 392 L696.3 388.5 L696.6 385 M697 379.3 L697.3 375.8 L697.6 372.3 M698 366.6 L698.2 363.1 L698.5 359.6 M698.8 353.9 L699.1 350.4 L699.3 346.9 M699.2 265 L698.9 261.5 L698.6 258 M698 252.3 L697.6 248.8 L697.1 245.3 M696.3 239.6 L695.8 236.1 L695.2 232.6 M694.1 226.9 L693.4 223.4 L692.7 219.9 M691.4 214.2 L690.5 210.7 L689.6 207.2 M687.9 201.5 L686.9 198 L685.7 194.5 M683.7 188.8 L682.5 185.3 L681.1 181.8 M678.7 176.1 L677.2 172.6 L675.6 169.1 M672.8 163.4 L671 159.9 L669.1 156.4 M665.9 150.7 L663.8 147.2 L661.7 143.7 M658 138 L655.6 134.5 L653.2 131 M649 125.3 L646.4 121.8 L643.7 118.3 M639.1 112.6 L636.2 109.1 L633.3 105.6 M628.3 99.9 L625.2 96.4 L622.1 92.9 M616.8 87.2 L613.6 83.7 L610.3 80.2 M604.8 74.5 L601.4 71 L598 67.5 M694.7 503.5 L694.8 501.3 L695 499 M695.3 495.4 L695.5 493 L695.7 490.7 M696.1 486.8 L696.3 484.1 L696.6 481.5 M696.9 477.1 L697.2 474.2 L697.5 471.3 M697.9 466.5 L698.2 463.3 L698.5 460.2 M699 455 L699.3 451.6 L699.6 448.3 M698.5 176.1 L697.3 172.6 L696.1 169.1 M693.9 163.4 L692.5 159.9 L691.1 156.4 M688.5 150.7 L686.8 147.2 L685.1 143.7 M682.1 138 L680.2 134.5 L678.2 131 M674.7 125.3 L672.5 121.8 L670.2 118.3 M666.3 112.6 L663.8 109.1 L661.2 105.6 M656.8 99.9 L654.1 96.4 L651.3 92.9 M646.5 87.2 L643.5 83.7 L640.4 80.2 M635.3 74.5 L632.2 71 L628.9 67.5"/>
<path stroke="#5a1a9a" stroke-width="0.99" d="M148 503.4 L150.7 500.2 L153.4 497 M158.9 490.6 L161.6 487.4 L164.4 484.2 M169.8 477.8 L172.6 474.6 L175.3 471.4 M180.8 465 L183.5 461.8 L186.3 458.6 M191.8 452.2 L194.5 449 L197.3 445.8 M202.8 439.4 L205.6 436.2 L208.3 433 M213.9 426.6 L216.6 423.4 L219.4 420.2 M225 413.8 L227.7 410.6 L230.5 407.4 M236.1 401 L238.9 397.8 L241.6 394.6 M247.2 388.2 L250 385 L252.8 381.8 M258.4 375.4 L261.2 372.2 L264 369 M269.6 362.6 L272.4 359.4 L275.2 356.2 M280.8 349.8 L283.6 346.6 L286.4 343.4 M292 337 L294.8 333.8 L297.7 330.6 M303.3 324.2 L306.1 321 L309 317.8 M314.6 311.4 L317.4 308.2 L320.3 305 M325.9 298.6 L328.8 295.4 L331.6 292.2 M337.3 285.8 L340.1 282.6 L343 279.4 M348.7 273 L351.5 269.8 L354.4 266.6 M360.1 260.2 L362.9 257 L365.8 253.8 M371.5 247.4 L374.3 244.2 L377.2 241 M382.9 234.6 L385.8 231.4 L388.7 228.2 M394.4 221.8 L397.3 218.6 L400.2 215.4 M405.9 209 L408.8 205.8 L411.7 202.6 M417.4 196.2 L420.3 193 L423.2 189.8 M429 183.4 L431.9 180.2 L434.8 177 M440.5 170.6 L443.4 167.4 L446.3 164.2 M452.1 157.8 L455 154.6 L457.9 151.4 M463.8 145 L466.7 141.8 L469.6 138.6 M475.4 132.2 L478.3 129 L481.2 125.8 M487.1 119.4 L490 116.2 L492.9 113 M498.7 106.6 L501.7 103.4 L504.6 100.2 M510.5 93.8 L513.4 90.6 L516.3 87.4 M522.2 81 L525.1 77.8 L528.1 74.6 M194.2 503.4 L196.9 500.2 L199.5 497 M204.8 490.6 L207.5 487.4 L210.1 484.2 M215.5 477.8 L218.1 474.6 L220.8 471.4 M226.1 465 L228.8 461.8 L231.5 458.6 M236.8 452.2 L239.5 449 L242.2 445.8 M247.5 439.4 L250.2 436.2 L252.9 433 M258.3 426.6 L261 423.4 L263.7 420.2 M269.1 413.8 L271.8 410.6 L274.5 407.4 M279.9 401 L282.6 397.8 L285.3 394.6 M290.8 388.2 L293.5 385 L296.2 381.8 M301.7 375.4 L304.4 372.2 L307.1 369 M312.6 362.6 L315.3 359.4 L318 356.2 M323.5 349.8 L326.3 346.6 L329 343.4 M334.5 337 L337.2 333.8 L340 330.6 M345.5 324.2 L348.2 321 L351 317.8 M356.5 311.4 L359.3 308.2 L362 305 M367.6 298.6 L370.3 295.4 L373.1 292.2 M378.7 285.8 L381.4 282.6 L384.2 279.4 M389.8 273 L392.6 269.8 L395.3 266.6 M400.9 260.2 L403.7 257 L406.5 253.8 M412.1 247.4 L414.9 244.2 L417.7 241 M423.3 234.6 L426.1 231.4 L428.9 228.2 M434.5 221.8 L437.3 218.6 L440.1 215.4 M445.8 209 L448.6 205.8 L451.4 202.6 M457 196.2 L459.9 193 L462.7 189.8 M468.3 183.4 L471.2 180.2 L474 177 M479.7 170.6 L482.5 167.4 L485.3 164.2 M491 157.8 L493.9 154.6 L496.7 151.4 M502.4 145 L505.2 141.8 L508.1 138.6 M513.8 132.2 L516.7 129 L519.5 125.8 M525.2 119.4 L528.1 116.2 L530.9 113 M536.7 106.6 L539.5 103.4 L542.4 100.2 M548.2 93.8 L551 90.6 L553.9 87.4 M559.7 81 L562.5 77.8 L565.4 74.6 M260.3 503.4 L262.9 500.2 L265.4 497 M270.5 490.6 L273 487.4 L275.5 484.2 M280.6 477.8 L283.2 474.6 L285.7 471.4 M290.9 465 L293.4 461.8 L296 458.6 M301.1 452.2 L303.7 449 L306.3 445.8 M311.4 439.4 L314 436.2 L316.6 433 M321.7 426.6 L324.3 423.4 L326.9 420.2 M332.1 413.8 L334.7 410.6 L337.3 407.4 M342.5 401 L345.1 397.8 L347.7 394.6 M352.9 388.2 L355.5 385 L358.1 381.8 M363.4 375.4 L366 372.2 L368.6 369 M373.9 362.6 L376.5 359.4 L379.1 356.2 M384.4 349.8 L387 346.6 L389.7 343.4 M395 337 L397.6 333.8 L400.3 330.6 M405.6 324.2 L408.2 321 L410.9 317.8 M416.2 311.4 L418.9 308.2 L421.5 305 M426.9 298.6 L429.5 295.4 L432.2 292.2 M437.6 285.8 L440.2 282.6 L442.9 279.4 M448.3 273 L451 269.8 L453.7 266.6 M459.1 260.2 L461.7 257 L464.4 253.8 M469.8 247.4 L472.5 244.2 L475.2 241 M480.7 234.6 L483.4 231.4 L486.1 228.2 M491.5 221.8 L494.2 218.6 L497 215.4 M502.4 209 L505.1 205.8 L507.8 202.6 M513.3 196.2 L516 193 L518.8 189.8 M524.2 183.4 L527 180.2 L529.7 177 M535.2 170.6 L538 167.4 L540.7 164.2 M546.2 157.8 L549 154.6 L551.7 151.4 M557.2 145 L560 141.8 L562.8 138.6 M568.3 132.2 L571.1 129 L573.8 125.8 M579.4 119.4 L582.2 116.2 L584.9 113 M590.5 106.6 L593.3 103.4 L596.1 100.2 M601.6 93.8 L604.4 90.6 L607.2 87.4 M612.8 81 L615.6 77.8 L618.4 74.6 M314.5 503.4 L317 500.2 L319.4 497 M324.3 490.6 L326.7 487.4 L329.2 484.2 M334.1 477.8 L336.5 474.6 L339 471.4 M343.9 465 L346.4 461.8 L348.8 458.6 M353.8 452.2 L356.3 449 L358.7 445.8 M363.7 439.4 L366.2 436.2 L368.7 433 M373.6 426.6 L376.1 423.4 L378.6 420.2 M383.6 413.8 L386.1 410.6 L388.7 407.4 M393.7 401 L396.2 397.8 L398.7 394.6 M403.7 388.2 L406.3 385 L408.8 381.8 M413.9 375.4 L416.4 372.2 L418.9 369 M424 362.6 L426.5 359.4 L429.1 356.2 M434.2 349.8 L436.7 346.6 L439.3 343.4 M444.4 337 L447 333.8 L449.5 330.6 M454.7 324.2 L457.2 321 L459.8 317.8 M465 311.4 L467.5 308.2 L470.1 305 M475.3 298.6 L477.9 295.4 L480.5 292.2 M485.7 285.8 L488.2 282.6 L490.8 279.4 M496.1 273 L498.7 269.8 L501.3 266.6 M506.5 260.2 L509.1 257 L511.7 253.8 M517 247.4 L519.6 244.2 L522.2 241 M527.5 234.6 L530.1 231.4 L532.7 228.2 M538 221.8 L540.6 218.6 L543.3 215.4 M548.6 209 L551.2 205.8 L553.9 202.6 M559.2 196.2 L561.8 193 L564.5 189.8 M569.8 183.4 L572.5 180.2 L575.1 177 M580.5 170.6 L583.1 167.4 L585.8 164.2 M591.2 157.8 L593.9 154.6 L596.5 151.4 M601.9 145 L604.6 141.8 L607.3 138.6 M612.7 132.2 L615.4 129 L618.1 125.8 M623.5 119.4 L626.2 116.2 L628.9 113 M634.3 106.6 L637 103.4 L639.7 100.2 M645.1 93.8 L647.9 90.6 L650.6 87.4 M656 81 L658.8 77.8 L661.5 74.6 M348.1 503.4 L350.5 500.2 L352.8 497 M357.6 490.6 L360 487.4 L362.4 484.2 M367.1 477.8 L369.5 474.6 L371.9 471.4 M376.7 465 L379.1 461.8 L381.5 458.6 M386.4 452.2 L388.8 449 L391.2 445.8 M396 439.4 L398.5 436.2 L400.9 433 M405.8 426.6 L408.2 423.4 L410.6 420.2 M415.5 413.8 L418 410.6 L420.4 407.4 M425.3 401 L427.8 397.8 L430.2 394.6 M435.2 388.2 L437.6 385 L440.1 381.8 M445 375.4 L447.5 372.2 L450 369 M455 362.6 L457.4 359.4 L459.9 356.2 M464.9 349.8 L467.4 346.6 L469.9 343.4 M474.9 337 L477.4 333.8 L479.9 330.6 M485 324.2 L487.5 321 L490 317.8 M495 311.4 L497.6 308.2 L500.1 305 M505.2 298.6 L507.7 295.4 L510.2 292.2 M515.3 285.8 L517.9 282.6 L520.4 279.4 M525.5 273 L528.1 269.8 L530.6 266.6 M535.7 260.2 L538.3 257 L540.9 253.8 M546 247.4 L548.6 244.2 L551.2 241 M556.3 234.6 L558.9 231.4 L561.5 228.2 M566.6 221.8 L569.2 218.6 L571.8 215.4 M577 209 L579.6 205.8 L582.2 202.6 M587.4 196.2 L590 193 L592.6 189.8 M597.9 183.4 L600.5 180.2 L603.1 177 M608.3 170.6 L611 167.4 L613.6 164.2 M618.9 157.8 L621.5 154.6 L624.1 151.4 M629.4 145 L632 141.8 L634.7 138.6 M640 132.2 L642.6 129 L645.3 125.8 M650.6 119.4 L653.3 116.2 L655.9 113 M661.2 106.6 L663.9 103.4 L666.6 100.2 M671.9 93.8 L674.6 90.6 L677.3 87.4 M682.6 81 L685.3 77.8 L688 74.6 M372.8 503.4 L375.1 500.2 L377.4 497 M382.1 490.6 L384.4 487.4 L386.8 484.2 M391.5 477.8 L393.8 474.6 L396.2 471.4 M400.9 465 L403.2 461.8 L405.6 458.6 M410.3 452.2 L412.7 449 L415.1 445.8 M419.8 439.4 L422.2 436.2 L424.6 433 M429.4 426.6 L431.7 423.4 L434.1 420.2 M438.9 413.8 L441.3 410.6 L443.7 407.4 M448.6 401 L451 397.8 L453.4 394.6 M458.2 388.2 L460.7 385 L463.1 381.8 M467.9 375.4 L470.4 372.2 L472.8 369 M477.7 362.6 L480.2 359.4 L482.6 356.2 M487.5 349.8 L490 346.6 L492.4 343.4 M497.3 337 L499.8 333.8 L502.3 330.6 M507.2 324.2 L509.7 321 L512.2 317.8 M517.1 311.4 L519.6 308.2 L522.1 305 M527.1 298.6 L529.6 295.4 L532.1 292.2 M537.1 285.8 L539.6 282.6 L542.1 279.4 M547.1 273 L549.6 269.8 L552.2 266.6 M557.2 260.2 L559.7 257 L562.3 253.8 M567.3 247.4 L569.9 244.2 L572.4 241 M577.5 234.6 L580 231.4 L582.6 228.2 M587.7 221.8 L590.2 218.6 L592.8 215.4 M597.9 209 L600.5 205.8 L603 202.6 M608.2 196.2 L610.7 193 L613.3 189.8 M618.5 183.4 L621 180.2 L623.6 177 M628.8 170.6 L631.4 167.4 L634 164.2 M639.2 157.8 L641.8 154.6 L644.4 151.4 M649.6 145 L652.2 141.8 L654.8 138.6 M660 132.2 L662.6 129 L665.2 125.8 M670.5 119.4 L673.1 116.2 L675.7 113 M681 106.6 L683.6 103.4 L686.3 100.2 M691.5 93.8 L694.2 90.6 L696.8 87.4 M408.9 503.4 L411.2 500.2 L413.4 497 M417.9 490.6 L420.2 487.4 L422.5 484.2 M427 477.8 L429.3 474.6 L431.6 471.4 M436.1 465 L438.4 461.8 L440.7 458.6 M445.3 452.2 L447.6 449 L449.9 445.8 M454.6 439.4 L456.9 436.2 L459.2 433 M463.8 426.6 L466.2 423.4 L468.5 420.2 M473.2 413.8 L475.5 410.6 L477.8 407.4 M482.5 401 L484.9 397.8 L487.2 394.6 M491.9 388.2 L494.3 385 L496.7 381.8 M501.4 375.4 L503.8 372.2 L506.2 369 M510.9 362.6 L513.3 359.4 L515.7 356.2 M520.5 349.8 L522.9 346.6 L525.3 343.4 M530.1 337 L532.5 333.8 L534.9 330.6 M539.7 324.2 L542.1 321 L544.5 317.8 M549.4 311.4 L551.8 308.2 L554.2 305 M559.1 298.6 L561.5 295.4 L564 292.2 M568.9 285.8 L571.3 282.6 L573.8 279.4 M578.7 273 L581.1 269.8 L583.6 266.6 M588.5 260.2 L591 257 L593.5 253.8 M598.4 247.4 L600.9 244.2 L603.4 241 M608.3 234.6 L610.8 231.4 L613.3 228.2 M618.3 221.8 L620.8 218.6 L623.3 215.4 M628.3 209 L630.8 205.8 L633.3 202.6 M638.4 196.2 L640.9 193 L643.4 189.8 M648.4 183.4 L651 180.2 L653.5 177 M658.6 170.6 L661.1 167.4 L663.6 164.2 M668.7 157.8 L671.3 154.6 L673.8 151.4 M678.9 145 L681.5 141.8 L684 138.6 M689.2 132.2 L691.7 129 L694.3 125.8 M435.5 503.4 L437.7 500.2 L439.9 497 M444.3 490.6 L446.5 487.4 L448.7 484.2 M453.2 477.8 L455.4 474.6 L457.6 471.4 M462.1 465 L464.3 461.8 L466.6 458.6 M471.1 452.2 L473.3 449 L475.6 445.8 M480.1 439.4 L482.4 436.2 L484.6 433 M489.2 426.6 L491.5 423.4 L493.8 420.2 M498.3 413.8 L500.6 410.6 L502.9 407.4 M507.5 401 L509.8 397.8 L512.1 394.6 M516.7 388.2 L519 385 L521.4 381.8 M526 375.4 L528.3 372.2 L530.7 369 M535.3 362.6 L537.7 359.4 L540 356.2 M544.7 349.8 L547 346.6 L549.4 343.4 M554.1 337 L556.5 333.8 L558.8 330.6 M563.6 324.2 L565.9 321 L568.3 317.8 M573.1 311.4 L575.4 308.2 L577.8 305 M582.6 298.6 L585 295.4 L587.4 292.2 M592.2 285.8 L594.6 282.6 L597 279.4 M601.8 273 L604.3 269.8 L606.7 266.6 M611.5 260.2 L613.9 257 L616.4 253.8 M621.2 247.4 L623.7 244.2 L626.1 241 M631 234.6 L633.4 231.4 L635.9 228.2 M640.8 221.8 L643.3 218.6 L645.7 215.4 M650.6 209 L653.1 205.8 L655.6 202.6 M660.5 196.2 L663 193 L665.5 189.8 M670.5 183.4 L672.9 180.2 L675.4 177 M680.4 170.6 L682.9 167.4 L685.4 164.2 M690.4 157.8 L692.9 154.6 L695.4 151.4 M474.4 503.4 L476.5 500.2 L478.6 497 M482.9 490.6 L485 487.4 L487.1 484.2 M491.4 477.8 L493.6 474.6 L495.7 471.4 M500.1 465 L502.2 461.8 L504.4 458.6 M508.7 452.2 L510.9 449 L513.1 445.8 M517.5 439.4 L519.7 436.2 L521.9 433 M526.3 426.6 L528.5 423.4 L530.7 420.2 M535.1 413.8 L537.3 410.6 L539.5 407.4 M544 401 L546.2 397.8 L548.4 394.6 M552.9 388.2 L555.2 385 L557.4 381.8 M561.9 375.4 L564.2 372.2 L566.4 369 M571 362.6 L573.2 359.4 L575.5 356.2 M580.1 349.8 L582.3 346.6 L584.6 343.4 M589.2 337 L591.5 333.8 L593.8 330.6 M598.4 324.2 L600.7 321 L603 317.8 M607.6 311.4 L609.9 308.2 L612.3 305 M616.9 298.6 L619.2 295.4 L621.6 292.2 M626.2 285.8 L628.6 282.6 L630.9 279.4 M635.6 273 L638 269.8 L640.3 266.6 M645 260.2 L647.4 257 L649.8 253.8 M654.5 247.4 L656.9 244.2 L659.3 241 M664 234.6 L666.4 231.4 L668.8 228.2 M673.6 221.8 L676 218.6 L678.4 215.4 M683.2 209 L685.6 205.8 L688 202.6 M692.8 196.2 L695.3 193 L697.7 189.8 M503 503.4 L505 500.2 L507.1 497 M511.2 490.6 L513.3 487.4 L515.4 484.2 M519.6 477.8 L521.7 474.6 L523.8 471.4 M528 465 L530.1 461.8 L532.2 458.6 M536.4 452.2 L538.5 449 L540.7 445.8 M544.9 439.4 L547.1 436.2 L549.2 433 M553.5 426.6 L555.6 423.4 L557.8 420.2 M562.1 413.8 L564.3 410.6 L566.5 407.4 M570.8 401 L573 397.8 L575.2 394.6 M579.5 388.2 L581.7 385 L583.9 381.8 M588.3 375.4 L590.5 372.2 L592.7 369 M597.1 362.6 L599.4 359.4 L601.6 356.2 M606 349.8 L608.3 346.6 L610.5 343.4 M615 337 L617.2 333.8 L619.5 330.6 M624 324.2 L626.2 321 L628.5 317.8 M633 311.4 L635.3 308.2 L637.5 305 M642.1 298.6 L644.4 295.4 L646.7 292.2 M651.2 285.8 L653.5 282.6 L655.8 279.4 M660.4 273 L662.7 269.8 L665 266.6 M669.7 260.2 L672 257 L674.3 253.8 M678.9 247.4 L681.3 244.2 L683.6 241 M688.3 234.6 L690.6 231.4 L692.9 228.2 M697.6 221.8 L700 218.6 L702.3 215.4 M525.8 503.4 L527.8 500.2 L529.8 497 M533.8 490.6 L535.9 487.4 L537.9 484.2 M542 477.8 L544 474.6 L546.1 471.4 M550.2 465 L552.3 461.8 L554.3 458.6 M558.5 452.2 L560.5 449 L562.6 445.8 M566.8 439.4 L568.9 436.2 L571 433 M575.2 426.6 L577.3 423.4 L579.4 420.2 M583.6 413.8 L585.8 410.6 L587.9 407.4 M592.1 401 L594.3 397.8 L596.4 394.6 M600.7 388.2 L602.8 385 L605 381.8 M609.3 375.4 L611.5 372.2 L613.6 369 M618 362.6 L620.1 359.4 L622.3 356.2 M626.7 349.8 L628.9 346.6 L631.1 343.4 M635.5 337 L637.7 333.8 L639.9 330.6 M644.3 324.2 L646.5 321 L648.7 317.8 M653.2 311.4 L655.4 308.2 L657.6 305 M662.1 298.6 L664.4 295.4 L666.6 292.2 M671.1 285.8 L673.3 282.6 L675.6 279.4 M680.1 273 L682.4 269.8 L684.7 266.6 M689.2 260.2 L691.5 257 L693.8 253.8 M698.3 247.4 L700.6 244.2 L702.9 241 M544.8 503.4 L546.7 500.2 L548.7 497 M552.7 490.6 L554.7 487.4 L556.7 484.2 M560.7 477.8 L562.7 474.6 L564.7 471.4 M568.7 465 L570.8 461.8 L572.8 458.6 M576.9 452.2 L578.9 449 L580.9 445.8 M585 439.4 L587.1 436.2 L589.1 433 M593.3 426.6 L595.3 423.4 L597.4 420.2 M601.6 413.8 L603.6 410.6 L605.7 407.4 M609.9 401 L612 397.8 L614.1 394.6 M618.3 388.2 L620.4 385 L622.6 381.8 M626.8 375.4 L628.9 372.2 L631.1 369 M635.3 362.6 L637.5 359.4 L639.6 356.2 M643.9 349.8 L646.1 346.6 L648.2 343.4 M652.6 337 L654.7 333.8 L656.9 330.6 M661.2 324.2 L663.4 321 L665.6 317.8 M670 311.4 L672.2 308.2 L674.4 305 M678.8 298.6 L681 295.4 L683.2 292.2 M687.6 285.8 L689.9 282.6 L692.1 279.4 M696.5 273 L698.8 269.8 L701 266.6 M568.5 503.4 L570.4 500.2 L572.4 497 M576.2 490.6 L578.2 487.4 L580.1 484.2 M584 477.8 L586 474.6 L588 471.4 M591.9 465 L593.9 461.8 L595.8 458.6 M599.8 452.2 L601.8 449 L603.8 445.8 M607.8 439.4 L609.8 436.2 L611.8 433 M615.8 426.6 L617.9 423.4 L619.9 420.2 M623.9 413.8 L626 410.6 L628 407.4 M632.1 401 L634.2 397.8 L636.2 394.6 M640.3 388.2 L642.4 385 L644.5 381.8 M648.6 375.4 L650.7 372.2 L652.8 369 M657 362.6 L659.1 359.4 L661.2 356.2 M665.4 349.8 L667.5 346.6 L669.6 343.4 M673.9 337 L676 333.8 L678.1 330.6 M682.4 324.2 L684.5 321 L686.7 317.8 M691 311.4 L693.1 308.2 L695.3 305 M599.9 503.4 L601.7 500.2 L603.6 497 M607.3 490.6 L609.2 487.4 L611.1 484.2 M614.9 477.8 L616.8 474.6 L618.7 471.4 M622.5 465 L624.4 461.8 L626.3 458.6 M630.1 452.2 L632 449 L634 445.8 M637.8 439.4 L639.8 436.2 L641.7 433 M645.6 426.6 L647.6 423.4 L649.6 420.2 M653.5 413.8 L655.5 410.6 L657.4 407.4 M661.4 401 L663.4 397.8 L665.4 394.6 M669.4 388.2 L671.4 385 L673.4 381.8 M677.4 375.4 L679.5 372.2 L681.5 369 M685.6 362.6 L687.6 359.4 L689.6 356.2 M693.7 349.8 L695.8 346.6 L697.8 343.4 M624.8 503.4 L626.6 500.2 L628.4 497 M632 490.6 L633.8 487.4 L635.7 484.2 M639.3 477.8 L641.2 474.6 L643 471.4 M646.7 465 L648.6 461.8 L650.4 458.6 M654.2 452.2 L656 449 L657.9 445.8 M661.7 439.4 L663.6 436.2 L665.5 433 M669.3 426.6 L671.2 423.4 L673.1 420.2 M676.9 413.8 L678.8 410.6 L680.8 407.4 M684.6 401 L686.6 397.8 L688.5 394.6 M692.4 388.2 L694.4 385 L696.4 381.8 M645.5 503.4 L647.2 500.2 L649 497 M652.5 490.6 L654.3 487.4 L656.1 484.2 M659.7 477.8 L661.5 474.6 L663.3 471.4 M666.9 465 L668.7 461.8 L670.5 458.6 M674.1 452.2 L676 449 L677.8 445.8 M681.5 439.4 L683.3 436.2 L685.2 433 M688.9 426.6 L690.8 423.4 L692.6 420.2 M696.4 413.8 L698.3 410.6 L700.1 407.4 M663.2 503.4 L664.9 500.2 L666.6 497 M670.1 490.6 L671.8 487.4 L673.6 484.2 M677.1 477.8 L678.8 474.6 L680.6 471.4 M684.1 465 L685.9 461.8 L687.7 458.6 M691.2 452.2 L693 449 L694.8 445.8 M698.4 439.4 L700.2 436.2 L702.1 433 M678.7 503.4 L680.4 500.2 L682.1 497 M685.5 490.6 L687.2 487.4 L688.9 484.2 M692.3 477.8 L694 474.6 L695.7 471.4"/>
<path stroke="#ff0000" stroke-width="0.99" d="M-457.2 505.5 L64.6 72.5 M-389.4 505.5 L132.4 72.5 M-321.6 505.5 L200.2 72.5 M-253.8 505.5 L268 72.5 M-186 505.5 L335.8 72.5 M-118.2 505.5 L403.6 72.5 M-50.4 505.5 L471.4 72.5 M17.4 505.5 L539.2 72.5 M85.2 505.5 L607 72.5 M153 505.5 L674.8 72.5 M220.8 505.5 L742.6 72.5 M288.6 505.5 L810.4 72.5 M356.4 505.5 L878.2 72.5 M424.2 505.5 L946 72.5 M492 505.5 L1013.8 72.5 M559.8 505.5 L1081.6 72.5 M627.6 505.5 L1149.4 72.5 M695.4 505.5 L1217.2 72.5"/>
</g>
<g fill="none" stroke="#000" stroke-width="1" shape-rendering="crispEdges">
<path d="M87 74.5 H697 M87 200.5 H697 M87 274.5 H697 M87 327.5 H697 M87 368.5 H697 M87 401.5 H697 M87 429.5 H697 M87 453.5 H697 M87 475.5 H697 M87 494.5 H697 M87 503.5 H697 M87.5 74 V504"/>
</g>
<g fill="none" shape-rendering="crispEdges" stroke-linejoin="round">
<path stroke="#ff0000" stroke-width="1.7" d="M601 74.5 L560 106.5 L497 154.3 L426.3 200.9 L385.7 241.3 L402 275.5 L456.3 327 L485.5 368 L505.2 401.5 L519.1 429"/>
<path stroke="#ff0000" stroke-width="3" d="M519 429 V464.4"/>
<path stroke="#ff0000" stroke-width="1.7" d="M519.1 464.4 L480.3 495.5"/>
<rect x="479" y="494" width="3" height="3" fill="#ff0000"/>
<path stroke="#0000ff" stroke-width="1.7" d="M367.2 74.5 L329.9 148.9 L338.4 200.9 L360 243.7 L381.3 275.5 L431.3 327 L465.8 368 L475.8 401.5 L469 429 L465.6 453.7 L463.5 464.4 L465.6 475 L467.5 480.5"/>
<path stroke="#0000ff" stroke-width="3" d="M467.5 480.5 V494"/>
<path stroke="#0000ff" stroke-width="2" d="M467.5 494 L470 498"/>
</g>
<text y="52.3" font-size="16.5" fill="#000" stroke="#fff" stroke-width="0.3"><tspan x="85.3" textLength="32.2" lengthAdjust="spacingAndGlyphs">AIRS</tspan> <tspan x="127.4" textLength="46.5" lengthAdjust="spacingAndGlyphs">SkewT</tspan> <tspan x="183" textLength="63.3" lengthAdjust="spacingAndGlyphs">Diagram</tspan> <tspan x="257.4" textLength="38.1" lengthAdjust="spacingAndGlyphs">2010</tspan><tspan x="297.6" textLength="11.1" lengthAdjust="spacingAndGlyphs">-</tspan><tspan x="310.3" textLength="18.5" lengthAdjust="spacingAndGlyphs">08</tspan><tspan x="333.3" textLength="11.3" lengthAdjust="spacingAndGlyphs">-</tspan><tspan x="346.8" textLength="15.2" lengthAdjust="spacingAndGlyphs">14</tspan><tspan x="366.6">/</tspan><tspan x="376.9" textLength="92" lengthAdjust="spacingAndGlyphs">15:19:32.73</tspan> <tspan x="477.8" textLength="70.2" lengthAdjust="spacingAndGlyphs">(Lat/Lon</tspan> <tspan x="556.7" textLength="108.9" lengthAdjust="spacingAndGlyphs">57.37/166.74</tspan> <tspan x="678" textLength="33" lengthAdjust="spacingAndGlyphs">deg)</tspan></text>
<text x="113.4" y="65.8" font-size="10" fill="#ff0000" textLength="27.6" lengthAdjust="spacingAndGlyphs">-120</text>
<text x="181.2" y="65.8" font-size="10" fill="#ff0000" textLength="27.6" lengthAdjust="spacingAndGlyphs">-110</text>
<text x="249" y="65.8" font-size="10" fill="#ff0000" textLength="27.6" lengthAdjust="spacingAndGlyphs">-100</text>
<text x="323" y="65.8" font-size="10" fill="#ff0000" textLength="20.6" lengthAdjust="spacingAndGlyphs">-90</text>
<text x="390.8" y="65.8" font-size="10" fill="#ff0000" textLength="20.6" lengthAdjust="spacingAndGlyphs">-80</text>
<text x="458.6" y="65.8" font-size="10" fill="#ff0000" textLength="20.6" lengthAdjust="spacingAndGlyphs">-70</text>
<text x="526.4" y="65.8" font-size="10" fill="#ff0000" textLength="20.6" lengthAdjust="spacingAndGlyphs">-60</text>
<text x="594.2" y="65.8" font-size="10" fill="#ff0000" textLength="20.6" lengthAdjust="spacingAndGlyphs">-50</text>
<text x="662" y="65.8" font-size="10" fill="#ff0000" textLength="20.6" lengthAdjust="spacingAndGlyphs">-40</text>
<text x="87.6" y="516.6" font-size="10" fill="#ff0000" textLength="20.7" lengthAdjust="spacingAndGlyphs">-50</text>
<text x="155.4" y="516.6" font-size="10" fill="#ff0000" textLength="20.7" lengthAdjust="spacingAndGlyphs">-40</text>
<text x="223.2" y="516.6" font-size="10" fill="#ff0000" textLength="20.7" lengthAdjust="spacingAndGlyphs">-30</text>
<text x="291" y="516.6" font-size="10" fill="#ff0000" textLength="20.7" lengthAdjust="spacingAndGlyphs">-20</text>
<text x="358.8" y="516.6" font-size="10" fill="#ff0000" textLength="20.7" lengthAdjust="spacingAndGlyphs">-10</text>
<text x="432.7" y="516.6" font-size="10" fill="#ff0000" textLength="6.5" lengthAdjust="spacingAndGlyphs">0</text>
<text x="497.5" y="516.6" font-size="10" fill="#ff0000" textLength="12.5" lengthAdjust="spacingAndGlyphs">10</text>
<text x="565.3" y="516.6" font-size="10" fill="#ff0000" textLength="12.5" lengthAdjust="spacingAndGlyphs">20</text>
<text x="633.1" y="516.6" font-size="10" fill="#ff0000" textLength="12.5" lengthAdjust="spacingAndGlyphs">30</text>
<text x="677.4" y="516.6" font-size="10" fill="#ff0000" textLength="20.7" lengthAdjust="spacingAndGlyphs">T(C)</text>
<text x="66.8" y="74.8" font-size="10" fill="#000" text-anchor="end" textLength="17.8" lengthAdjust="spacingAndGlyphs">100</text>
<text x="66.8" y="201.2" font-size="10" fill="#000" text-anchor="end" textLength="17.8" lengthAdjust="spacingAndGlyphs">200</text>
<text x="66.8" y="275.2" font-size="10" fill="#000" text-anchor="end" textLength="17.8" lengthAdjust="spacingAndGlyphs">300</text>
<text x="66.8" y="327.7" font-size="10" fill="#000" text-anchor="end" textLength="17.8" lengthAdjust="spacingAndGlyphs">400</text>
<text x="66.8" y="368.4" font-size="10" fill="#000" text-anchor="end" textLength="17.8" lengthAdjust="spacingAndGlyphs">500</text>
<text x="66.8" y="401.6" font-size="10" fill="#000" text-anchor="end" textLength="17.8" lengthAdjust="spacingAndGlyphs">600</text>
<text x="66.8" y="429.7" font-size="10" fill="#000" text-anchor="end" textLength="17.8" lengthAdjust="spacingAndGlyphs">700</text>
<text x="66.8" y="454.1" font-size="10" fill="#000" text-anchor="end" textLength="17.8" lengthAdjust="spacingAndGlyphs">800</text>
<text x="66.8" y="475.6" font-size="10" fill="#000" text-anchor="end" textLength="17.8" lengthAdjust="spacingAndGlyphs">900</text>
<text x="66.8" y="494.8" font-size="10" fill="#000" text-anchor="end" textLength="24" lengthAdjust="spacingAndGlyphs">1000</text>
<text transform="translate(80.2 332) rotate(-90)" font-size="12.5" textLength="104.7" lengthAdjust="spacingAndGlyphs">PRESSURE (MB)</text>
<text y="116" font-size="18" fill="#ff0000" stroke="#fff" stroke-width="0.5"><tspan x="117.9" textLength="71.3" lengthAdjust="spacingAndGlyphs">Ambient</tspan> <tspan x="201.1" textLength="20" lengthAdjust="spacingAndGlyphs">Air</tspan> <tspan x="233.3" textLength="47.2" lengthAdjust="spacingAndGlyphs">Temp</tspan></text>
<text y="137.6" font-size="17.5" fill="#0000ff" stroke="#fff" stroke-width="0.5"><tspan x="118.9" textLength="32.1" lengthAdjust="spacingAndGlyphs">Dew</tspan> <tspan x="165" textLength="43" lengthAdjust="spacingAndGlyphs">Point</tspan> <tspan x="220" textLength="46" lengthAdjust="spacingAndGlyphs">Temp</tspan></text>
<text x="700.7" y="84.6" font-size="13" fill="#000" textLength="45.1" lengthAdjust="spacingAndGlyphs">TP:100</text>
<text x="700.7" y="100.3" font-size="13" fill="#000" textLength="50.4" lengthAdjust="spacingAndGlyphs">MW:N/A</text>
<text x="700.7" y="116" font-size="13" fill="#000" textLength="52.8" lengthAdjust="spacingAndGlyphs">FRZ:690</text>
<text x="699.9" y="131.8" font-size="13" fill="#000" textLength="55.8" lengthAdjust="spacingAndGlyphs">WB0:992</text>
<text x="699.9" y="147.5" font-size="13" fill="#000" textLength="59.8" lengthAdjust="spacingAndGlyphs">PW:10.48</text>
<text x="700.7" y="163.2" font-size="13" fill="#000" textLength="51" lengthAdjust="spacingAndGlyphs">RH:66.9</text>
<text x="699.9" y="178.9" font-size="13" fill="#000" textLength="64.4" lengthAdjust="spacingAndGlyphs">MAXT:19.9</text>
<text x="700.7" y="194.6" font-size="13" fill="#000" textLength="52.8" lengthAdjust="spacingAndGlyphs">TH:5463</text>
<text x="701.3" y="210.4" font-size="13" fill="#000" textLength="46.9" lengthAdjust="spacingAndGlyphs">L57:6.2</text>
<text x="700.7" y="226.1" font-size="13" fill="#000" textLength="51.5" lengthAdjust="spacingAndGlyphs">LCL:992</text>
<text x="702.1" y="241.8" font-size="13" fill="#000" textLength="42.3" lengthAdjust="spacingAndGlyphs">LI:18.2</text>
<text x="700.7" y="257.5" font-size="13" fill="#000" textLength="42.9" lengthAdjust="spacingAndGlyphs">SI:10.1</text>
<text x="700.2" y="273.2" font-size="13" fill="#000" textLength="46.1" lengthAdjust="spacingAndGlyphs">TT:35.9</text>
<text x="702.1" y="289" font-size="13" fill="#000" textLength="40.2" lengthAdjust="spacingAndGlyphs">KI:286</text>
<text x="700.7" y="304.7" font-size="13" fill="#000" textLength="48.3" lengthAdjust="spacingAndGlyphs">SW:N/A</text>
<text x="703.4" y="320.4" font-size="13" fill="#000" textLength="34.3" lengthAdjust="spacingAndGlyphs">EI:0.2</text>
<text x="699.4" y="336.1" font-size="13" fill="#000" textLength="68.3" lengthAdjust="spacingAndGlyphs">-PARCEL-</text>
<text x="702.1" y="351.8" font-size="13" fill="#000" textLength="44.2" lengthAdjust="spacingAndGlyphs">CAPE:0</text>
<text x="698" y="367.6" font-size="13" fill="#000" textLength="75.9" lengthAdjust="spacingAndGlyphs">CINH:21637</text>
<text x="700.7" y="383.3" font-size="13" fill="#000" textLength="51.5" lengthAdjust="spacingAndGlyphs">LCL:992</text>
<text x="700.2" y="399" font-size="13" fill="#000" textLength="58.2" lengthAdjust="spacingAndGlyphs">CAP:16.3</text>
<text x="700.7" y="414.7" font-size="13" fill="#000" textLength="53.6" lengthAdjust="spacingAndGlyphs">LFC:N/A</text>
<text x="702.1" y="430.4" font-size="13" fill="#000" textLength="44.2" lengthAdjust="spacingAndGlyphs">EL:N/A</text>
<text x="700.7" y="446.2" font-size="13" fill="#000" textLength="55" lengthAdjust="spacingAndGlyphs">MPL:N/A</text>
<text x="701.3" y="461.9" font-size="13" fill="#000" textLength="50.9" lengthAdjust="spacingAndGlyphs">-WIND-</text>
<text x="703.9" y="477.6" font-size="13" fill="#000" textLength="22.8" lengthAdjust="spacingAndGlyphs">NOT</text>
<text x="702.1" y="493.3" font-size="13" fill="#000" textLength="30.8" lengthAdjust="spacingAndGlyphs">AVAIL</text>
<text transform="translate(142 523.3) rotate(-45)" font-size="10" fill="#5a1a9a" stroke="#5a1a9a" stroke-width="0.25" text-anchor="middle" dy="3.5">0.1</text>
<text transform="translate(189.3 523.3) rotate(-45)" font-size="10" fill="#5a1a9a" stroke="#5a1a9a" stroke-width="0.25" text-anchor="middle" dy="3.5">0.2</text>
<text transform="translate(254.5 523.3) rotate(-45)" font-size="10" fill="#5a1a9a" stroke="#5a1a9a" stroke-width="0.25" text-anchor="middle" dy="3.5">0.5</text>
<text transform="translate(307.2 523.3) rotate(-45)" font-size="10" fill="#5a1a9a" stroke="#5a1a9a" stroke-width="0.25" text-anchor="middle" dy="3.5">1</text>
<text transform="translate(341 523.3) rotate(-45)" font-size="10" fill="#5a1a9a" stroke="#5a1a9a" stroke-width="0.25" text-anchor="middle" dy="3.5">1.5</text>
<text transform="translate(363.3 523.3) rotate(-45)" font-size="10" fill="#5a1a9a" stroke="#5a1a9a" stroke-width="0.25" text-anchor="middle" dy="3.5">2</text>
<text transform="translate(400.5 523.3) rotate(-45)" font-size="10" fill="#5a1a9a" stroke="#5a1a9a" stroke-width="0.25" text-anchor="middle" dy="3.5">3</text>
<text transform="translate(427.3 523.3) rotate(-45)" font-size="10" fill="#5a1a9a" stroke="#5a1a9a" stroke-width="0.25" text-anchor="middle" dy="3.5">4</text>
<text transform="translate(465.7 523.3) rotate(-45)" font-size="10" fill="#5a1a9a" stroke="#5a1a9a" stroke-width="0.25" text-anchor="middle" dy="3.5">6</text>
<text transform="translate(493.5 523.3) rotate(-45)" font-size="10" fill="#5a1a9a" stroke="#5a1a9a" stroke-width="0.25" text-anchor="middle" dy="3.5">8</text>
<text transform="translate(517 522) rotate(-45)" font-size="10" fill="#5a1a9a" stroke="#5a1a9a" stroke-width="0.25" text-anchor="middle" dy="3.5">10</text>
<text transform="translate(535.4 522) rotate(-45)" font-size="10" fill="#5a1a9a" stroke="#5a1a9a" stroke-width="0.25" text-anchor="middle" dy="3.5">12</text>
<text transform="translate(558.9 522) rotate(-45)" font-size="10" fill="#5a1a9a" stroke="#5a1a9a" stroke-width="0.25" text-anchor="middle" dy="3.5">15</text>
<text transform="translate(589.8 522) rotate(-45)" font-size="10" fill="#5a1a9a" stroke="#5a1a9a" stroke-width="0.25" text-anchor="middle" dy="3.5">20</text>
<text transform="translate(613.8 522) rotate(-45)" font-size="10" fill="#5a1a9a" stroke="#5a1a9a" stroke-width="0.25" text-anchor="middle" dy="3.5">25</text>
<text transform="translate(635.3 522) rotate(-45)" font-size="10" fill="#5a1a9a" stroke="#5a1a9a" stroke-width="0.25" text-anchor="middle" dy="3.5">30</text>
<text transform="translate(667 522.5) rotate(-45)" font-size="10" fill="#5a1a9a" stroke="#5a1a9a" stroke-width="0.25" text-anchor="middle" dy="3.5">35</text>
<text transform="translate(669.5 522.5) rotate(-45)" font-size="10" fill="#5a1a9a" stroke="#5a1a9a" stroke-width="0.25" text-anchor="middle" dy="3.5">40</text>
<text x="674.6" y="526.5" font-size="10.5" fill="#5a1a9a" textLength="33.7" lengthAdjust="spacingAndGlyphs">(g/kg)</text>
</svg>
</body></html>
